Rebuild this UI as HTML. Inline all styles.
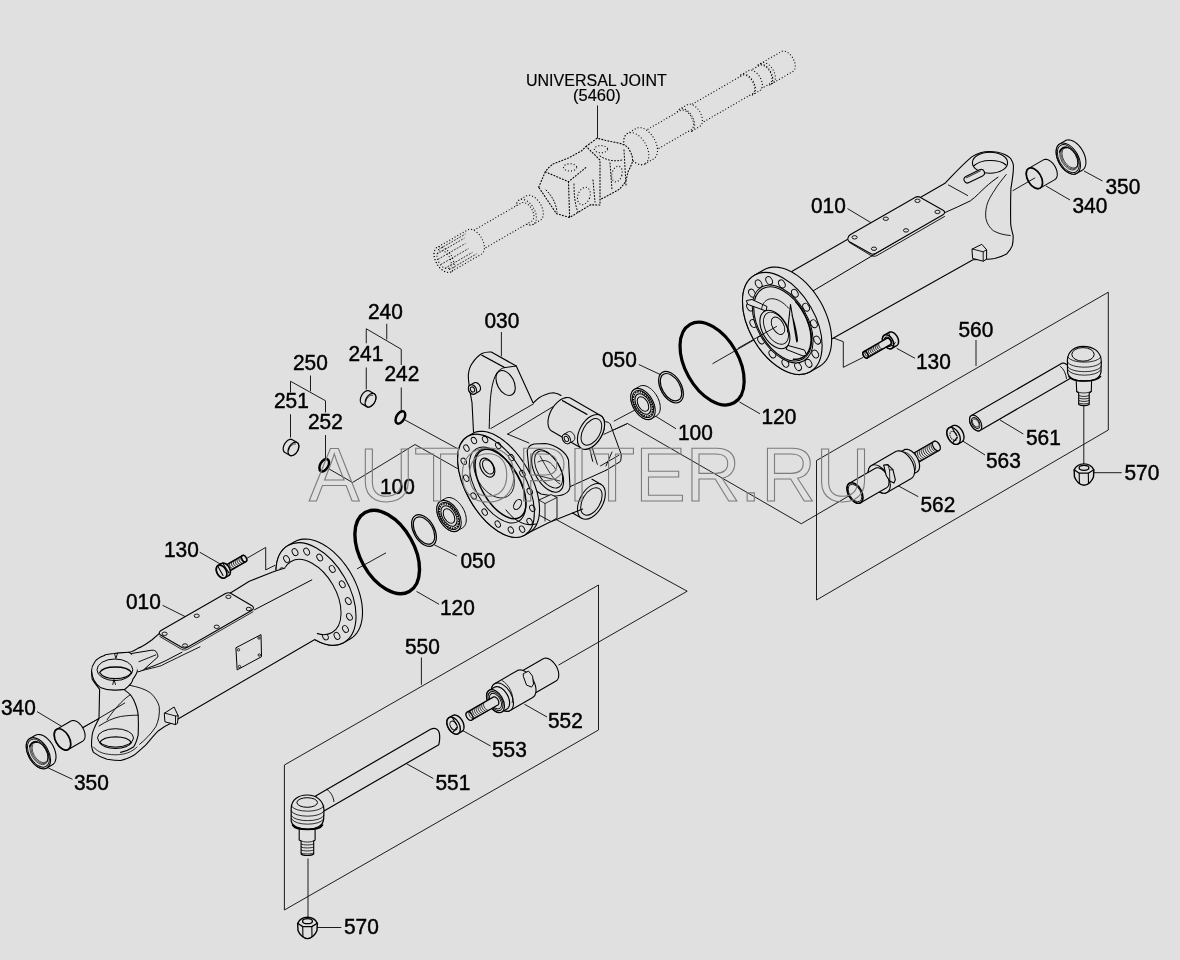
<!DOCTYPE html>
<html><head><meta charset="utf-8">
<style>
html,body{margin:0;padding:0;background:#e0e0e0;}
svg{display:block;will-change:transform;}
text{font-family:"Liberation Sans",sans-serif;fill:#000;}
.lb{font-size:22px;stroke:#000;stroke-width:0.45px;}
.ln{stroke:#111;stroke-width:0.95;fill:none;}
</style></head><body>
<svg width="1180" height="960" viewBox="0 0 1180 960">
<rect width="1180" height="960" fill="#e0e0e0"/>
<g class="lb">
<text x="526" y="85.5" style="font-size:16px;stroke-width:0.15px">UNIVERSAL JOINT</text>
<text x="573" y="101" style="font-size:16.5px;stroke-width:0.15px">(5460)</text>
<text transform="translate(811 213) scale(0.95 1)">010</text>
<text transform="translate(1105.5 194) scale(0.95 1)">350</text>
<text transform="translate(1072.5 213) scale(0.95 1)">340</text>
<text transform="translate(958.5 337) scale(0.95 1)">560</text>
<text transform="translate(916 369) scale(0.95 1)">130</text>
<text transform="translate(761.5 424) scale(0.95 1)">120</text>
<text transform="translate(678 440) scale(0.95 1)">100</text>
<text transform="translate(602 367) scale(0.95 1)">050</text>
<text transform="translate(484.5 327.5) scale(0.95 1)">030</text>
<text transform="translate(368 318.5) scale(0.95 1)">240</text>
<text transform="translate(348.5 360.5) scale(0.95 1)">241</text>
<text transform="translate(384.5 380.5) scale(0.95 1)">242</text>
<text transform="translate(293 370) scale(0.95 1)">250</text>
<text transform="translate(274 408) scale(0.95 1)">251</text>
<text transform="translate(308 429) scale(0.95 1)">252</text>
<text transform="translate(1026 445) scale(0.95 1)">561</text>
<text transform="translate(986 468) scale(0.95 1)">563</text>
<text transform="translate(1124.5 480) scale(0.95 1)">570</text>
<text transform="translate(920.5 511.5) scale(0.95 1)">562</text>
<text transform="translate(380 493.5) scale(0.95 1)">100</text>
<text transform="translate(460.5 568) scale(0.95 1)">050</text>
<text transform="translate(164 557) scale(0.95 1)">130</text>
<text transform="translate(440 614.5) scale(0.95 1)">120</text>
<text transform="translate(126 608.5) scale(0.95 1)">010</text>
<text transform="translate(405 654) scale(0.95 1)">550</text>
<text transform="translate(548 728) scale(0.95 1)">552</text>
<text transform="translate(492 757) scale(0.95 1)">553</text>
<text transform="translate(1 714.5) scale(0.95 1)">340</text>
<text transform="translate(74 790) scale(0.95 1)">350</text>
<text transform="translate(435.5 790) scale(0.95 1)">551</text>
<text transform="translate(344 933.5) scale(0.95 1)">570</text>
</g>

<g class="ln">
<path d="M597.5 105.5V139"/>
<path d="M1084 171L1102.5 181"/>
<path d="M1046 186L1070 200"/>
<path d="M847.5 208.6L871.2 222.8"/>
<path d="M386.75 323.75V339.5M366.25 343.25V328.75L401.25 349.25V365M366.25 367.5V389.5M401.25 387.5V412"/>
<path d="M310.5 375.5V391.25M290.5 392.5V381.25L325.5 400.75V412.5M290.5 414.25V437.5M325.5 435V460"/>
<path d="M405 420L460 450"/>
<path d="M328.75 468.75L352.5 482.5L415 444.5L460 470"/>
<path d="M501.4 332V356.4"/>
<path d="M638.75 364.5L661.25 375"/>
<path d="M654.5 415.5L676 428.75"/>
<path d="M739.5 402L760 413.75"/>
<path d="M613.75 421.25L638.75 408"/>
<path d="M712.5 363.75L780 325"/>
<path d="M602.5 435L627.5 423.5L801.25 523.75L900 466"/>
<path d="M1108.3 292.2L816.5 460.5V600L1108.3 430Z"/>
<path d="M976 340V366"/>
<path d="M830 336.7L843.3 341.7V367.3L863.3 357.3"/>
<path d="M896.7 348.3L915 358.3"/>
<path d="M1000 420L1023.3 434"/>
<path d="M960 439.3L985 455"/>
<path d="M1092.7 472.7H1121.7"/>
<path d="M896.7 485L918.3 496.7"/>
<path d="M1083.8 405V464"/>
<path d="M199.7 552.2L222.2 565.1"/>
<path d="M246.4 558.6L265.7 547.4V569.9L275.4 565.1"/>
<path d="M162.6 605.3L185.2 616.6"/>
<path d="M37 711.6L61.2 726.1"/>
<path d="M48.3 768L72.5 779.3"/>
<path d="M434.3 544.8L456.8 556"/>
<path d="M416.5 591.4L439.1 604.3"/>
<path d="M357 568.9L386 552.8"/>
<path d="M421.4 657.5V684.8"/>
<path d="M284.4 765L598.5 585V730L284.4 910Z"/>
<path d="M545 513.4L687.2 591.2L558.5 665.1"/>
<path d="M524.4 704.2L547 717"/>
<path d="M461.6 730L490.6 746"/>
<path d="M406.3 763.6L433.3 778.5"/>
<path d="M316.9 927.5H341.3"/>
<path d="M308 858.5V917.5"/>
</g>

<ellipse cx="712.1" cy="363.6" rx="44.9" ry="26.8" transform="rotate(60.7 712.1 363.6)" fill="none" stroke="#000" stroke-width="3.2" />
<ellipse cx="387.2" cy="552" rx="45.2" ry="27" transform="rotate(60.7 387.2 552)" fill="none" stroke="#000" stroke-width="3.4" />
<ellipse cx="671" cy="387.2" rx="17.2" ry="10.3" transform="rotate(60 671 387.2)" fill="none" stroke="#000" stroke-width="1.2" />
<ellipse cx="671" cy="387.2" rx="14.9" ry="8.9" transform="rotate(60 671 387.2)" fill="none" stroke="#000" stroke-width="1.2" />
<ellipse cx="424" cy="530.5" rx="17.2" ry="10.3" transform="rotate(60 424 530.5)" fill="none" stroke="#000" stroke-width="1.2" />
<ellipse cx="424" cy="530.5" rx="14.9" ry="8.9" transform="rotate(60 424 530.5)" fill="none" stroke="#000" stroke-width="1.2" />
<path d="M651.5,418.72 L650.7,419.11 L649.84,419.38 L648.92,419.54 L647.97,419.58 L646.97,419.5 L645.94,419.3 L644.9,418.99 L643.83,418.56 L642.76,418.02 L641.7,417.37 L640.64,416.62 L639.6,415.78 L638.59,414.84 L637.61,413.83 L636.67,412.74 L635.78,411.58 L634.94,410.36 L634.17,409.1 L633.46,407.8 L632.82,406.47 L632.27,405.12 L631.79,403.76 L631.4,402.4 L631.1,401.06 L630.89,399.73 L630.77,398.44 L630.74,397.2 L630.81,396 L630.97,394.87 L631.22,393.8 L631.56,392.81 L631.99,391.91 L632.5,391.1 L633.1,390.39 L633.76,389.78 L634.5,389.28 L639.52,386.38 L640.32,385.99 L641.19,385.72 L642.1,385.56 L643.06,385.52 L644.05,385.6 L645.08,385.8 L646.13,386.11 L647.19,386.54 L648.26,387.08 L649.33,387.73 L650.38,388.48 L651.42,389.32 L652.44,390.26 L653.42,391.27 L654.36,392.36 L655.25,393.52 L656.08,394.74 L656.86,396 L657.56,397.3 L658.2,398.63 L658.76,399.98 L659.23,401.34 L659.62,402.7 L659.92,404.04 L660.13,405.37 L660.25,406.66 L660.28,407.9 L660.21,409.1 L660.05,410.23 L659.8,411.3 L659.46,412.29 L659.03,413.19 L658.52,414 L657.93,414.71 L657.26,415.32 L656.52,415.82Z" fill="#e0e0e0" stroke="#000" stroke-width="1" stroke-linejoin="round" />
<ellipse cx="643" cy="404" rx="17" ry="10.2" transform="rotate(60 643 404)" fill="#e0e0e0" stroke="#000" stroke-width="1" />
<ellipse cx="643" cy="404" rx="14.8" ry="8.9" transform="rotate(60 643 404)" fill="none" stroke="#000" stroke-width="1" />
<ellipse cx="643" cy="404" rx="13.4" ry="8" transform="rotate(60 643 404)" fill="none" stroke="#000" stroke-width="1.6" stroke-dasharray="1.5 1"/>
<ellipse cx="643" cy="404" rx="11.2" ry="6.7" transform="rotate(60 643 404)" fill="none" stroke="#000" stroke-width="1" />
<ellipse cx="643" cy="404" rx="8" ry="4.8" transform="rotate(60 643 404)" fill="none" stroke="#000" stroke-width="1" />
<path d="M457.5,530.72 L456.7,531.11 L455.84,531.38 L454.92,531.54 L453.97,531.58 L452.97,531.5 L451.94,531.3 L450.9,530.99 L449.83,530.56 L448.76,530.02 L447.7,529.37 L446.64,528.62 L445.6,527.78 L444.59,526.84 L443.61,525.83 L442.67,524.74 L441.78,523.58 L440.94,522.36 L440.17,521.1 L439.46,519.8 L438.82,518.47 L438.27,517.12 L437.79,515.76 L437.4,514.4 L437.1,513.06 L436.89,511.73 L436.77,510.44 L436.74,509.2 L436.81,508 L436.97,506.87 L437.22,505.8 L437.56,504.81 L437.99,503.91 L438.5,503.1 L439.1,502.39 L439.76,501.78 L440.5,501.28 L445.52,498.38 L446.32,497.99 L447.19,497.72 L448.1,497.56 L449.06,497.52 L450.05,497.6 L451.08,497.8 L452.13,498.11 L453.19,498.54 L454.26,499.08 L455.33,499.73 L456.38,500.48 L457.42,501.32 L458.44,502.26 L459.42,503.27 L460.36,504.36 L461.25,505.52 L462.08,506.74 L462.86,508 L463.56,509.3 L464.2,510.63 L464.76,511.98 L465.23,513.34 L465.62,514.7 L465.92,516.04 L466.13,517.37 L466.25,518.66 L466.28,519.9 L466.21,521.1 L466.05,522.23 L465.8,523.3 L465.46,524.29 L465.03,525.19 L464.52,526 L463.93,526.71 L463.26,527.32 L462.52,527.82Z" fill="#e0e0e0" stroke="#000" stroke-width="1" stroke-linejoin="round" />
<ellipse cx="449" cy="516" rx="17" ry="10.2" transform="rotate(60 449 516)" fill="#e0e0e0" stroke="#000" stroke-width="1" />
<ellipse cx="449" cy="516" rx="14.8" ry="8.9" transform="rotate(60 449 516)" fill="none" stroke="#000" stroke-width="1" />
<ellipse cx="449" cy="516" rx="13.4" ry="8" transform="rotate(60 449 516)" fill="none" stroke="#000" stroke-width="1.6" stroke-dasharray="1.5 1"/>
<ellipse cx="449" cy="516" rx="11.2" ry="6.7" transform="rotate(60 449 516)" fill="none" stroke="#000" stroke-width="1" />
<ellipse cx="449" cy="516" rx="8" ry="4.8" transform="rotate(60 449 516)" fill="none" stroke="#000" stroke-width="1" />
<path d="M792.1,271.3 L945,183.3 C953,175 961,166 971.7,156.9 C978,153 984,151.5 989.3,151.5 C996,151.7 1001,152.8 1004.2,154.2 C1008,156 1011,158 1011.6,160.3 C1013.2,163 1013.6,166 1013.4,167.1 C1013.5,172 1012.8,176 1012.3,179.3 L1010.9,188.7 C1010.5,200 1010.5,212 1010.7,224 C1011,228 1012,231 1013,234.8 C1013.4,238 1013,242 1012.3,245.6 C1011,249 1009,251.5 1006.9,253.7 C1003,256 999,257.5 994.7,258.5 C992,259 989,259.2 987.2,259.2 L973,259.8 L831.7,339 L800,340 Z" fill="#e0e0e0" stroke="#000" stroke-width="1.1" stroke-linejoin="round" stroke-linecap="round" />
<path d="M812.9,291 L944.2,212.9 C953,209 962,205 970.3,200.9 C976,197 981,191 985.2,187.4 C990,183 994,180 998,177.2" fill="none" stroke="#000" stroke-width="1" stroke-linejoin="round" stroke-linecap="round" />
<path d="M948.5,185 L967.6,195.5" fill="none" stroke="#000" stroke-width="0.9" stroke-linejoin="round" stroke-linecap="round" />
<path d="M1006.2,174.5 C1001,181 997,186 994.7,190.1 C990,197 987.5,202 986.6,206.4 C985.5,211 985.5,215 985.9,218.5 C987,224 990,228 993.3,230.7 C998,233.5 1004,235 1010.3,235.5" fill="none" stroke="#000" stroke-width="0.9" stroke-linejoin="round" stroke-linecap="round" />
<ellipse cx="990" cy="162.7" rx="17.6" ry="10.5" transform="rotate(0 990 162.7)" fill="none" stroke="#000" stroke-width="1.1" />
<path d="M973.5,166 C978,162 984,160.5 990,160.5 C997,160.5 1003,162 1006,165" fill="none" stroke="#000" stroke-width="1.1" stroke-linejoin="round" stroke-linecap="round" />
<path d="M967.5,179.5 L981,172.8" stroke="#000" stroke-width="8" stroke-linecap="round" fill="none"/>
<path d="M967.5,179.5 L981,172.8" stroke="#e0e0e0" stroke-width="5.8" stroke-linecap="round" fill="none"/>
<path d="M966.5,177.8 L980.5,170.8" fill="none" stroke="#000" stroke-width="0.8" stroke-linejoin="round" stroke-linecap="round" />
<path d="M972.3,249 L981.8,244.3 L986.6,249.7 L986.6,259.2 L983.2,261.2 L973,258.5 Z" fill="#e0e0e0" stroke="#000" stroke-width="1" stroke-linejoin="round" stroke-linecap="round" />
<path d="M972.3,249 L983.2,251.8 L986.6,249.7 M983.2,251.8 V261.2" fill="none" stroke="#000" stroke-width="0.9" stroke-linejoin="round" stroke-linecap="round" />
<path d="M850.5,234.5 L915,197.5 C917,196.3 919,196.5 920.5,197.5 L943.5,210.5 C945,211.5 945,213.5 943,214.7 L876,253.3 C874,254.4 872,254.4 870.5,253.5 L849,241.5 C847,240.2 847.5,236.5 850.5,234.5 Z" fill="#e0e0e0" stroke="#000" stroke-width="1.1" stroke-linejoin="round" stroke-linecap="round" />
<path d="M849.5,242.5 L871,255.5 C873,256.5 875,256.5 877,255.5 L944.5,216.5" fill="none" stroke="#000" stroke-width="0.9" stroke-linejoin="round" stroke-linecap="round" />
<ellipse cx="854.6" cy="237.3" rx="2.6" ry="1.7" transform="rotate(0 854.6 237.3)" fill="none" stroke="#000" stroke-width="0.9" />
<ellipse cx="917.5" cy="200.8" rx="2.6" ry="1.7" transform="rotate(0 917.5 200.8)" fill="none" stroke="#000" stroke-width="0.9" />
<ellipse cx="937.5" cy="211.9" rx="2.6" ry="1.7" transform="rotate(0 937.5 211.9)" fill="none" stroke="#000" stroke-width="0.9" />
<ellipse cx="874" cy="248.75" rx="2.6" ry="1.7" transform="rotate(0 874 248.75)" fill="none" stroke="#000" stroke-width="0.9" />
<ellipse cx="885.8" cy="218.75" rx="2.6" ry="1.7" transform="rotate(0 885.8 218.75)" fill="none" stroke="#000" stroke-width="0.9" />
<ellipse cx="906" cy="230.4" rx="2.6" ry="1.7" transform="rotate(0 906 230.4)" fill="none" stroke="#000" stroke-width="0.9" />
<path d="M810.15,371.74 L807.56,372.99 L804.79,373.86 L801.84,374.35 L798.74,374.45 L795.51,374.16 L792.19,373.49 L788.79,372.44 L785.34,371.01 L781.87,369.23 L778.4,367.09 L774.96,364.63 L771.58,361.85 L768.28,358.78 L765.08,355.44 L762.02,351.86 L759.11,348.06 L756.38,344.07 L753.84,339.93 L751.52,335.67 L749.44,331.31 L747.6,326.89 L746.03,322.44 L744.74,318.01 L743.73,313.61 L743.01,309.29 L742.6,305.08 L742.48,301.01 L742.67,297.11 L743.16,293.41 L743.95,289.94 L745.03,286.73 L746.4,283.79 L748.03,281.16 L749.93,278.85 L752.08,276.88 L754.45,275.26 L763.98,269.76 L766.56,268.51 L769.34,267.64 L772.29,267.15 L775.39,267.05 L778.61,267.34 L781.94,268.01 L785.34,269.06 L788.79,270.49 L792.26,272.27 L795.73,274.41 L799.16,276.87 L802.55,279.65 L805.85,282.72 L809.04,286.06 L812.11,289.64 L815.02,293.44 L817.75,297.43 L820.29,301.57 L822.6,305.83 L824.69,310.19 L826.52,314.61 L828.09,319.06 L829.39,323.49 L830.4,327.89 L831.11,332.21 L831.53,336.42 L831.64,340.49 L831.45,344.39 L830.96,348.09 L830.17,351.56 L829.09,354.77 L827.73,357.71 L826.09,360.34 L824.2,362.65 L822.05,364.62 L819.68,366.24Z" fill="#e0e0e0" stroke="#000" stroke-width="1.1" stroke-linejoin="round" />
<ellipse cx="782.3" cy="323.5" rx="55.7" ry="32.86" transform="rotate(60 782.3 323.5)" fill="#e0e0e0" stroke="#000" stroke-width="1.1" />
<ellipse cx="798.05" cy="366.6" rx="4.2" ry="3" transform="rotate(60 798.05 366.6)" fill="none" stroke="#000" stroke-width="0.9" />
<ellipse cx="785.34" cy="363.3" rx="4.2" ry="3" transform="rotate(60 785.34 363.3)" fill="none" stroke="#000" stroke-width="0.9" />
<ellipse cx="772.37" cy="353.95" rx="4.2" ry="3" transform="rotate(60 772.37 353.95)" fill="none" stroke="#000" stroke-width="0.9" />
<ellipse cx="761.1" cy="339.99" rx="4.2" ry="3" transform="rotate(60 761.1 339.99)" fill="none" stroke="#000" stroke-width="0.9" />
<ellipse cx="753.27" cy="323.53" rx="4.2" ry="3" transform="rotate(60 753.27 323.53)" fill="none" stroke="#000" stroke-width="0.9" />
<ellipse cx="750.05" cy="307.08" rx="4.2" ry="3" transform="rotate(60 750.05 307.08)" fill="none" stroke="#000" stroke-width="0.9" />
<ellipse cx="751.93" cy="293.14" rx="4.2" ry="3" transform="rotate(60 751.93 293.14)" fill="none" stroke="#000" stroke-width="0.9" />
<ellipse cx="758.64" cy="283.85" rx="4.2" ry="3" transform="rotate(60 758.64 283.85)" fill="none" stroke="#000" stroke-width="0.9" />
<ellipse cx="769.15" cy="280.6" rx="4.2" ry="3" transform="rotate(60 769.15 280.6)" fill="none" stroke="#000" stroke-width="0.9" />
<ellipse cx="781.86" cy="283.9" rx="4.2" ry="3" transform="rotate(60 781.86 283.9)" fill="none" stroke="#000" stroke-width="0.9" />
<ellipse cx="794.83" cy="293.25" rx="4.2" ry="3" transform="rotate(60 794.83 293.25)" fill="none" stroke="#000" stroke-width="0.9" />
<ellipse cx="806.1" cy="307.21" rx="4.2" ry="3" transform="rotate(60 806.1 307.21)" fill="none" stroke="#000" stroke-width="0.9" />
<ellipse cx="813.93" cy="323.67" rx="4.2" ry="3" transform="rotate(60 813.93 323.67)" fill="none" stroke="#000" stroke-width="0.9" />
<ellipse cx="817.15" cy="340.12" rx="4.2" ry="3" transform="rotate(60 817.15 340.12)" fill="none" stroke="#000" stroke-width="0.9" />
<ellipse cx="815.27" cy="354.06" rx="4.2" ry="3" transform="rotate(60 815.27 354.06)" fill="none" stroke="#000" stroke-width="0.9" />
<ellipse cx="808.56" cy="363.35" rx="4.2" ry="3" transform="rotate(60 808.56 363.35)" fill="none" stroke="#000" stroke-width="0.9" />
<ellipse cx="782.7" cy="323.9" rx="42.5" ry="25.07" transform="rotate(60 782.7 323.9)" fill="#e0e0e0" stroke="#000" stroke-width="1" />
<ellipse cx="782.7" cy="323.9" rx="40.5" ry="23.89" transform="rotate(60 782.7 323.9)" fill="none" stroke="#000" stroke-width="1.1" />
<path d="M795.75,301.79 L797.62,304.02 L799.41,306.36 L801.10,308.81 L802.68,311.34 L804.15,313.94 L805.50,316.60 L806.72,319.30 L807.79,322.02 L808.73,324.76 L809.51,327.49 L810.14,330.19 L810.61,332.86 L810.92,335.47 L811.07,338.01 L811.05,340.47 L810.87,342.83 L810.53,345.07 L810.02,347.19 L809.36,349.17 L808.55,351.01 L807.58,352.67 L806.48,354.17 L805.23,355.49 L803.86,356.62 L802.37,357.56 L800.76,358.30 L799.05,358.83 L797.24,359.16 L795.36,359.28 L793.40,359.19" fill="none" stroke="#000" stroke-width="1.5" stroke-linejoin="round" stroke-linecap="round" stroke-dasharray="0.6 0.8" stroke-linecap="butt"/>
<path d="M746.75,300.5 L752,299.5 L767,306.5 L766,311 L748,304.5 Z" fill="#e0e0e0" stroke="#000" stroke-width="1" stroke-linejoin="round" stroke-linecap="round" />
<path d="M788,345.5 L804.5,350 L806.5,355 L803,356 L786.5,349.5 Z" fill="#e0e0e0" stroke="#000" stroke-width="1" stroke-linejoin="round" stroke-linecap="round" />
<path d="M761.63,309.05 L761.92,307.54 L762.32,306.13 L762.82,304.81 L763.44,303.61 L764.16,302.53 L764.98,301.57 L765.89,300.74 L766.89,300.05 L767.97,299.50 L769.13,299.09 L770.36,298.83 L771.65,298.72 L772.99,298.75 L774.37,298.94 L775.79,299.27 L777.23,299.75 L778.69,300.37 L780.16,301.13 L781.63,302.03 L783.09,303.05 L784.53,304.19 L785.94,305.45 L787.32,306.82 L788.65,308.28" fill="none" stroke="#000" stroke-width="0.9" stroke-linejoin="round" stroke-linecap="round" />
<ellipse cx="774.9" cy="329.5" rx="21" ry="12.39" transform="rotate(60 774.9 329.5)" fill="#e0e0e0" stroke="#000" stroke-width="1.1" />
<ellipse cx="776" cy="328.2" rx="17.5" ry="10.32" transform="rotate(60 776 328.2)" fill="none" stroke="#000" stroke-width="0.9" />
<ellipse cx="778" cy="325.75" rx="9.5" ry="5.6" transform="rotate(60 778 325.75)" fill="none" stroke="#000" stroke-width="0.9" />
<path d="M790.5,304.5 L787.5,332 M790.5,304.5 L796.75,342 M792,315 C795,325 797,333 797.5,341" fill="none" stroke="#000" stroke-width="1.1" stroke-linejoin="round" stroke-linecap="round" />
<path d="M776.5,326.5 L738,348.25" fill="none" stroke="#000" stroke-width="0.9" stroke-linejoin="round" stroke-linecap="round" />
<path d="M344,642.5 L341.4,643.75 L338.61,644.63 L335.64,645.12 L332.53,645.22 L329.28,644.94 L325.94,644.26 L322.52,643.2 L319.06,641.77 L315.57,639.97 L312.08,637.83 L308.62,635.35 L305.22,632.56 L301.9,629.47 L298.69,626.11 L295.61,622.51 L292.68,618.69 L289.94,614.68 L287.39,610.52 L285.06,606.23 L282.96,601.85 L281.11,597.41 L279.54,592.94 L278.23,588.48 L277.22,584.06 L276.5,579.72 L276.08,575.48 L275.97,571.39 L276.16,567.47 L276.65,563.75 L277.44,560.26 L278.53,557.03 L279.9,554.08 L281.55,551.43 L283.46,549.11 L285.61,547.13 L288,545.5 L294.49,541.75 L297.1,540.5 L299.89,539.62 L302.85,539.13 L305.97,539.03 L309.21,539.31 L312.55,539.99 L315.97,541.05 L319.44,542.48 L322.93,544.28 L326.42,546.42 L329.87,548.9 L333.27,551.69 L336.59,554.78 L339.81,558.14 L342.89,561.74 L345.81,565.56 L348.56,569.57 L351.11,573.73 L353.44,578.02 L355.54,582.4 L357.38,586.84 L358.96,591.31 L360.26,595.77 L361.27,600.19 L361.99,604.53 L362.41,608.77 L362.53,612.86 L362.34,616.78 L361.84,620.5 L361.05,623.99 L359.96,627.22 L358.59,630.17 L356.95,632.82 L355.04,635.14 L352.88,637.12 L350.5,638.75Z" fill="#e0e0e0" stroke="#000" stroke-width="1.1" stroke-linejoin="round" />
<ellipse cx="316" cy="594" rx="56" ry="33.04" transform="rotate(60 316 594)" fill="#e0e0e0" stroke="#000" stroke-width="1.1" />
<ellipse cx="336.99" cy="635.88" rx="3.7" ry="2.6" transform="rotate(60 336.99 635.88)" fill="none" stroke="#000" stroke-width="0.9" />
<ellipse cx="325.35" cy="636.42" rx="3.7" ry="2.6" transform="rotate(60 325.35 636.42)" fill="none" stroke="#000" stroke-width="0.9" />
<ellipse cx="312.28" cy="630.5" rx="3.7" ry="2.6" transform="rotate(60 312.28 630.5)" fill="none" stroke="#000" stroke-width="0.9" />
<ellipse cx="299.79" cy="619.02" rx="3.7" ry="2.6" transform="rotate(60 299.79 619.02)" fill="none" stroke="#000" stroke-width="0.9" />
<ellipse cx="289.76" cy="603.73" rx="3.7" ry="2.6" transform="rotate(60 289.76 603.73)" fill="none" stroke="#000" stroke-width="0.9" />
<ellipse cx="283.73" cy="586.96" rx="3.7" ry="2.6" transform="rotate(60 283.73 586.96)" fill="none" stroke="#000" stroke-width="0.9" />
<ellipse cx="282.61" cy="571.27" rx="3.7" ry="2.6" transform="rotate(60 282.61 571.27)" fill="none" stroke="#000" stroke-width="0.9" />
<ellipse cx="286.57" cy="559.03" rx="3.7" ry="2.6" transform="rotate(60 286.57 559.03)" fill="none" stroke="#000" stroke-width="0.9" />
<ellipse cx="295.01" cy="552.12" rx="3.7" ry="2.6" transform="rotate(60 295.01 552.12)" fill="none" stroke="#000" stroke-width="0.9" />
<ellipse cx="306.65" cy="551.58" rx="3.7" ry="2.6" transform="rotate(60 306.65 551.58)" fill="none" stroke="#000" stroke-width="0.9" />
<ellipse cx="319.72" cy="557.5" rx="3.7" ry="2.6" transform="rotate(60 319.72 557.5)" fill="none" stroke="#000" stroke-width="0.9" />
<ellipse cx="332.21" cy="568.98" rx="3.7" ry="2.6" transform="rotate(60 332.21 568.98)" fill="none" stroke="#000" stroke-width="0.9" />
<ellipse cx="342.24" cy="584.27" rx="3.7" ry="2.6" transform="rotate(60 342.24 584.27)" fill="none" stroke="#000" stroke-width="0.9" />
<ellipse cx="348.27" cy="601.04" rx="3.7" ry="2.6" transform="rotate(60 348.27 601.04)" fill="none" stroke="#000" stroke-width="0.9" />
<ellipse cx="349.39" cy="616.73" rx="3.7" ry="2.6" transform="rotate(60 349.39 616.73)" fill="none" stroke="#000" stroke-width="0.9" />
<ellipse cx="345.43" cy="628.97" rx="3.7" ry="2.6" transform="rotate(60 345.43 628.97)" fill="none" stroke="#000" stroke-width="0.9" />
<ellipse cx="311.5" cy="597" rx="41" ry="24.6" transform="rotate(60 311.5 597)" fill="#e0e0e0" stroke="#000" stroke-width="1" />
<path d="M292,566 C282,568 276,570 272.7,572 L249.3,581.2 L228.4,594.2 L159.4,633.3 L151.8,640 C146,644 142,647 138.2,648.1 C134,651 131,652 128.7,652.2 L119.3,652.9 L113.9,653.5 C108,654 104,655 104.4,655.6 C99,657.5 96,660 94.9,661.7 C92.5,665 91.5,668 91.5,671.1 C91.7,674 92,677 92.2,679.3 C95,684 98,687 99.6,689.4 L99,718.5 C95,726 92.5,731 92.2,734.8 C91.5,740 91.5,743 91.5,745.6 C92,749 92.8,751 93.5,752.4 C98,756 103,758 107.1,759.2 C112,760 116,760.5 120.6,760.5 C126,759.5 130,757.5 134.2,755.1 C139,751 143,747.5 146.4,744.3 C151,739 155,734 158.5,730.7 C162,728 166,725.5 169.4,724 L178,719 L314.4,639.8 L330,600 Z" fill="#e0e0e0" stroke="none"/>
<path d="M285,568 C280,569.5 276,570.5 272.7,572 L249.3,581.2 L228.4,594.2 L159.4,633.3 L151.8,640 C146,644 142,647 138.2,648.1 C134,651 131,652 128.7,652.2 L119.3,652.9 L113.9,653.5 C108,654 104,655 104.4,655.6 C99,657.5 96,660 94.9,661.7 C92.5,665 91.5,668 91.5,671.1 C91.7,674 92,677 92.2,679.3 C95,684 98,687 99.6,689.4 L99,718.5 C95,726 92.5,731 92.2,734.8 C91.5,740 91.5,743 91.5,745.6 C92,749 92.8,751 93.5,752.4 C98,756 103,758 107.1,759.2 C112,760 116,760.5 120.6,760.5 C126,759.5 130,757.5 134.2,755.1 C139,751 143,747.5 146.4,744.3 C151,739 155,734 158.5,730.7 C162,728 166,725.5 169.4,724 L178,719 L314.4,639.8" fill="none" stroke="#000" stroke-width="1.1" stroke-linejoin="round" stroke-linecap="round" />
<path d="M311.8,579.9 L254.5,609.8 M182,652.2 L165.9,660.6 C158,664.5 150,667.5 142.5,669.7" fill="none" stroke="#000" stroke-width="1" stroke-linejoin="round" stroke-linecap="round" />
<path d="M139.6,671.1 C148,669 155,667.5 161.2,665.7 C168,662 173,660 177.5,657.6 L200,646.8" fill="none" stroke="#000" stroke-width="0.9" stroke-linejoin="round" stroke-linecap="round" />
<path d="M91.5,671.1 C92,677 94,683 100.3,687.4 C104,689 109,690.1 113.9,690.1 C118,690.2 122,689.8 124.7,689.4 C129,686 133,683 132.8,679.3 C136,675 137.5,672 137.5,669.8 C137.5,665 137.5,662 136.9,660.3 C134,656 131,653 128.7,652.2" fill="none" stroke="#000" stroke-width="1.1" stroke-linejoin="round" stroke-linecap="round" />
<ellipse cx="114.9" cy="669.8" rx="17.9" ry="10.8" transform="rotate(0 114.9 669.8)" fill="none" stroke="#000" stroke-width="1" />
<path d="M99.6,672.5 C102,668.5 108,667 115.2,667 C123,667 129,668.5 131.5,672.5 C129,676.5 122,678.6 115.2,678.6 C108,678.6 102,676.5 99.6,672.5 Z" fill="none" stroke="#000" stroke-width="1.3" stroke-linejoin="round" stroke-linecap="round" />
<path d="M114.5,653.5 L115.9,658.5 L117.5,653.2 M112.8,684.5 L113.9,679.5 L115.5,684.5" fill="none" stroke="#000" stroke-width="0.9" stroke-linejoin="round" stroke-linecap="round" />
<path d="M124.7,690.1 C129,693 132,696 133.5,699.6 C136,705 138,711 138.2,715.8 C138.5,722 138.5,729 138.2,734.8 C137,740 135.5,744 133.5,747 C129,750 125,751.5 120.6,752.4" fill="none" stroke="#000" stroke-width="1.1" stroke-linejoin="round" stroke-linecap="round" />
<path d="M130.1,685.4 C138,687 145,689 150.4,692.8 C155,697 158,702 159.2,706.3 C160,714 158.5,721 155.8,726.7 C151,734 145,740 139.6,744.3" fill="none" stroke="#000" stroke-width="0.9" stroke-linejoin="round" stroke-linecap="round" />
<path d="M99,726 C106,721.5 113,718 120.6,716.5 C127,715.5 133,715.2 138.2,715.2" fill="none" stroke="#000" stroke-width="0.9" stroke-linejoin="round" stroke-linecap="round" />
<path d="M107.1,719.9 C113,711 121,701 130.1,694.8" fill="none" stroke="#000" stroke-width="0.9" stroke-linejoin="round" stroke-linecap="round" />
<path d="M82.7,728 L124.7,703" fill="none" stroke="#000" stroke-width="0.9" stroke-linejoin="round" stroke-linecap="round" />
<ellipse cx="115.5" cy="737.9" rx="18" ry="9.2" transform="rotate(0 115.5 737.9)" fill="#e0e0e0" stroke="#000" stroke-width="1" />
<path d="M99.6,742.5 C102,738.5 108,736.8 115.6,736.8 C123,736.8 129,738.5 131.5,742.5 C129,746.5 123,748.3 115.6,748.3 C108,748.3 102,746.5 99.6,742.5 Z" fill="none" stroke="#000" stroke-width="1.3" stroke-linejoin="round" stroke-linecap="round" />
<path d="M93.5,747 C98,753 106,754.5 115,754.8 C125,754.8 132,752 137,747" fill="none" stroke="#000" stroke-width="0.8" stroke-linejoin="round" stroke-linecap="round" />
<path d="M131.5,653.5 L151.8,650.2 C154,650 156,651 156.5,652.2 C157.5,654 158,655.5 157.9,656.9 L143.6,669.8 C141,671 139.5,671.5 138.2,671.8" fill="#e0e0e0" stroke="#000" stroke-width="1" stroke-linejoin="round" stroke-linecap="round" />
<path d="M138.9,661.7 L155.8,654.9" fill="none" stroke="#000" stroke-width="0.9" stroke-linejoin="round" stroke-linecap="round" />
<path d="M164.6,713.1 L174.1,707 L178.2,715.8 L177.5,723.3 L175.5,724.6 L165.3,721.9 Z" fill="#e0e0e0" stroke="#000" stroke-width="1" stroke-linejoin="round" stroke-linecap="round" />
<path d="M164.6,713.1 L175.5,716 L178.2,715.8 M175.5,716 V724.6" fill="none" stroke="#000" stroke-width="0.9" stroke-linejoin="round" stroke-linecap="round" />
<path d="M161,630.5 L225.5,593.5 C227.5,592.5 229.5,592.5 231,593.5 L252,605.8 C254,607 254,609 252,610.2 L187.5,647.3 C185.5,648.4 183.5,648.4 182,647.5 L160.5,635 C158.5,633.8 159,631.8 161,630.5 Z" fill="#e0e0e0" stroke="#000" stroke-width="1.1" stroke-linejoin="round" stroke-linecap="round" />
<path d="M159.8,636.5 L181.5,649.3 C183.5,650.3 185.5,650.3 187.5,649.3 L253,611.8" fill="none" stroke="#000" stroke-width="0.8" stroke-linejoin="round" stroke-linecap="round" />
<ellipse cx="164.6" cy="633.8" rx="2.6" ry="1.7" transform="rotate(0 164.6 633.8)" fill="none" stroke="#000" stroke-width="0.9" />
<ellipse cx="228.4" cy="596.8" rx="2.6" ry="1.7" transform="rotate(0 228.4 596.8)" fill="none" stroke="#000" stroke-width="0.9" />
<ellipse cx="248.75" cy="609" rx="2.6" ry="1.7" transform="rotate(0 248.75 609)" fill="none" stroke="#000" stroke-width="0.9" />
<ellipse cx="185" cy="645.5" rx="2.6" ry="1.7" transform="rotate(0 185 645.5)" fill="none" stroke="#000" stroke-width="0.9" />
<ellipse cx="196.7" cy="615.8" rx="2.6" ry="1.7" transform="rotate(0 196.7 615.8)" fill="none" stroke="#000" stroke-width="0.9" />
<ellipse cx="216.7" cy="626.8" rx="2.6" ry="1.7" transform="rotate(0 216.7 626.8)" fill="none" stroke="#000" stroke-width="0.9" />
<path d="M236.25,647.6 L261,634.6 L261.5,656.7 L237.5,669.7 Z" fill="none" stroke="#000" stroke-width="1" stroke-linejoin="round" stroke-linecap="round" />
<ellipse cx="238.5" cy="649.8" rx="1.2" ry="1.2" transform="rotate(0 238.5 649.8)" fill="none" stroke="#000" stroke-width="0.8" />
<ellipse cx="259" cy="638" rx="1.2" ry="1.2" transform="rotate(0 259 638)" fill="none" stroke="#000" stroke-width="0.8" />
<ellipse cx="259.3" cy="655" rx="1.2" ry="1.2" transform="rotate(0 259.3 655)" fill="none" stroke="#000" stroke-width="0.8" />
<ellipse cx="239.5" cy="666.5" rx="1.2" ry="1.2" transform="rotate(0 239.5 666.5)" fill="none" stroke="#000" stroke-width="0.8" />
<path d="M770.27,84.56 L769.74,84.82 L769.16,85 L768.55,85.1 L767.91,85.12 L767.25,85.06 L766.56,84.92 L765.86,84.7 L765.15,84.41 L764.43,84.04 L763.71,83.6 L763,83.09 L762.31,82.52 L761.62,81.88 L760.97,81.19 L760.33,80.45 L759.73,79.67 L759.17,78.85 L758.64,77.99 L758.17,77.11 L757.73,76.21 L757.36,75.3 L757.03,74.38 L756.76,73.47 L756.56,72.56 L756.41,71.67 L756.32,70.8 L756.3,69.96 L756.34,69.15 L756.44,68.39 L756.6,67.67 L756.83,67.01 L757.11,66.4 L757.45,65.86 L757.84,65.38 L758.28,64.97 L758.77,64.64 L781.29,51.64 L781.82,51.38 L782.39,51.2 L783,51.1 L783.64,51.08 L784.31,51.14 L784.99,51.28 L785.7,51.5 L786.41,51.79 L787.13,52.16 L787.84,52.6 L788.55,53.11 L789.25,53.68 L789.93,54.32 L790.59,55.01 L791.22,55.75 L791.82,56.53 L792.39,57.35 L792.91,58.21 L793.39,59.09 L793.82,59.99 L794.2,60.9 L794.52,61.82 L794.79,62.73 L795,63.64 L795.15,64.53 L795.23,65.4 L795.26,66.24 L795.22,67.05 L795.12,67.81 L794.95,68.53 L794.73,69.19 L794.45,69.8 L794.11,70.34 L793.72,70.82 L793.28,71.23 L792.79,71.56Z" fill="#e0e0e0" stroke="#000" stroke-width="1.1" stroke-linejoin="round" stroke-dasharray="1 2.1" stroke-linecap="butt"/>
<ellipse cx="764.52" cy="74.6" rx="11.5" ry="6.78" transform="rotate(60 764.52 74.6)" fill="#e0e0e0" stroke="#000" stroke-width="1.1" stroke-dasharray="1 2.1" stroke-linecap="butt"/>
<ellipse cx="767.12" cy="73.1" rx="11.5" ry="6.78" transform="rotate(60 767.12 73.1)" fill="none" stroke="#000" stroke-width="1" stroke-dasharray="1 2.1" stroke-linecap="butt"/>
<path d="M759.38,89.69 L758.89,89.93 L758.37,90.09 L757.81,90.19 L757.23,90.2 L756.62,90.15 L755.99,90.02 L755.35,89.83 L754.7,89.56 L754.05,89.22 L753.39,88.82 L752.74,88.35 L752.11,87.83 L751.48,87.25 L750.88,86.62 L750.3,85.95 L749.76,85.23 L749.24,84.48 L748.76,83.7 L748.33,82.89 L747.93,82.07 L747.59,81.24 L747.29,80.4 L747.05,79.56 L746.86,78.74 L746.72,77.92 L746.64,77.13 L746.62,76.36 L746.66,75.63 L746.75,74.93 L746.9,74.27 L747.1,73.67 L747.36,73.11 L747.67,72.62 L748.03,72.18 L748.43,71.81 L748.88,71.51 L759.27,65.51 L759.76,65.27 L760.28,65.11 L760.84,65.01 L761.42,65 L762.03,65.05 L762.66,65.18 L763.3,65.37 L763.95,65.64 L764.6,65.98 L765.26,66.38 L765.9,66.85 L766.54,67.37 L767.16,67.95 L767.77,68.58 L768.34,69.25 L768.89,69.97 L769.41,70.72 L769.88,71.5 L770.32,72.31 L770.72,73.13 L771.06,73.96 L771.36,74.8 L771.6,75.64 L771.79,76.46 L771.93,77.28 L772,78.07 L772.03,78.84 L771.99,79.57 L771.9,80.27 L771.75,80.93 L771.55,81.53 L771.29,82.09 L770.98,82.58 L770.62,83.02 L770.22,83.39 L769.77,83.69Z" fill="#e0e0e0" stroke="#000" stroke-width="1.1" stroke-linejoin="round" stroke-dasharray="1 2.1" stroke-linecap="butt"/>
<ellipse cx="754.13" cy="80.6" rx="10.5" ry="6.19" transform="rotate(60 754.13 80.6)" fill="#e0e0e0" stroke="#000" stroke-width="1.1" stroke-dasharray="1 2.1" stroke-linecap="butt"/>
<path d="M752.95,94.56 L752.42,94.82 L751.84,95 L751.23,95.1 L750.59,95.12 L749.93,95.06 L749.24,94.92 L748.54,94.7 L747.83,94.41 L747.11,94.04 L746.39,93.6 L745.68,93.09 L744.99,92.52 L744.3,91.88 L743.65,91.19 L743.01,90.45 L742.41,89.67 L741.85,88.85 L741.32,87.99 L740.85,87.11 L740.41,86.21 L740.04,85.3 L739.71,84.38 L739.44,83.47 L739.24,82.56 L739.09,81.67 L739,80.8 L738.98,79.96 L739.02,79.15 L739.12,78.39 L739.28,77.67 L739.51,77.01 L739.79,76.4 L740.13,75.86 L740.52,75.38 L740.96,74.97 L741.45,74.64 L748.38,70.64 L748.91,70.38 L749.49,70.2 L750.09,70.1 L750.73,70.08 L751.4,70.14 L752.09,70.28 L752.79,70.5 L753.5,70.79 L754.22,71.16 L754.93,71.6 L755.64,72.11 L756.34,72.68 L757.02,73.32 L757.68,74.01 L758.32,74.75 L758.92,75.53 L759.48,76.35 L760,77.21 L760.48,78.09 L760.91,78.99 L761.29,79.9 L761.62,80.82 L761.88,81.73 L762.09,82.64 L762.24,83.53 L762.33,84.4 L762.35,85.24 L762.31,86.05 L762.21,86.81 L762.05,87.53 L761.82,88.19 L761.54,88.8 L761.2,89.34 L760.81,89.82 L760.37,90.23 L759.88,90.56Z" fill="#e0e0e0" stroke="#000" stroke-width="1.1" stroke-linejoin="round" stroke-dasharray="1 2.1" stroke-linecap="butt"/>
<ellipse cx="747.2" cy="84.6" rx="11.5" ry="6.78" transform="rotate(60 747.2 84.6)" fill="#e0e0e0" stroke="#000" stroke-width="1.1" stroke-dasharray="1 2.1" stroke-linecap="butt"/>
<path d="M698.76,124.69 L698.27,124.93 L697.75,125.09 L697.19,125.19 L696.61,125.2 L696,125.15 L695.37,125.02 L694.73,124.83 L694.08,124.56 L693.43,124.22 L692.77,123.82 L692.12,123.35 L691.49,122.83 L690.86,122.25 L690.26,121.62 L689.68,120.95 L689.14,120.23 L688.62,119.48 L688.14,118.7 L687.71,117.89 L687.31,117.07 L686.97,116.24 L686.67,115.4 L686.43,114.56 L686.24,113.74 L686.1,112.92 L686.02,112.13 L686,111.36 L686.04,110.63 L686.13,109.93 L686.28,109.27 L686.48,108.67 L686.74,108.11 L687.05,107.62 L687.41,107.18 L687.81,106.81 L688.26,106.51 L741.95,75.51 L742.44,75.27 L742.96,75.11 L743.52,75.01 L744.1,75 L744.71,75.05 L745.34,75.18 L745.98,75.37 L746.63,75.64 L747.28,75.98 L747.94,76.38 L748.58,76.85 L749.22,77.37 L749.84,77.95 L750.45,78.58 L751.02,79.25 L751.57,79.97 L752.09,80.72 L752.56,81.5 L753,82.31 L753.4,83.13 L753.74,83.96 L754.04,84.8 L754.28,85.64 L754.47,86.46 L754.61,87.28 L754.68,88.07 L754.71,88.84 L754.67,89.57 L754.58,90.27 L754.43,90.93 L754.23,91.53 L753.97,92.09 L753.66,92.58 L753.3,93.02 L752.9,93.39 L752.45,93.69Z" fill="#e0e0e0" stroke="#000" stroke-width="1.1" stroke-linejoin="round" stroke-dasharray="1 2.1" stroke-linecap="butt"/>
<ellipse cx="693.51" cy="115.6" rx="10.5" ry="6.19" transform="rotate(60 693.51 115.6)" fill="#e0e0e0" stroke="#000" stroke-width="1.1" stroke-dasharray="1 2.1" stroke-linecap="butt"/>
<path d="M691.96,130.93 L691.38,131.21 L690.76,131.4 L690.1,131.51 L689.4,131.53 L688.68,131.47 L687.93,131.32 L687.17,131.08 L686.4,130.76 L685.62,130.36 L684.84,129.88 L684.07,129.33 L683.31,128.71 L682.57,128.02 L681.85,127.27 L681.16,126.46 L680.51,125.61 L679.9,124.72 L679.33,123.79 L678.81,122.83 L678.34,121.85 L677.93,120.86 L677.57,119.86 L677.28,118.87 L677.06,117.88 L676.9,116.91 L676.8,115.97 L676.78,115.05 L676.82,114.18 L676.93,113.35 L677.11,112.57 L677.35,111.85 L677.66,111.19 L678.02,110.6 L678.45,110.08 L678.93,109.64 L679.46,109.27 L687.26,104.77 L687.84,104.49 L688.46,104.3 L689.12,104.19 L689.82,104.17 L690.54,104.23 L691.29,104.38 L692.05,104.62 L692.83,104.94 L693.6,105.34 L694.38,105.82 L695.15,106.37 L695.91,106.99 L696.66,107.68 L697.37,108.43 L698.06,109.24 L698.71,110.09 L699.33,110.98 L699.89,111.91 L700.42,112.87 L700.88,113.85 L701.29,114.84 L701.65,115.84 L701.94,116.83 L702.16,117.82 L702.32,118.79 L702.42,119.73 L702.44,120.65 L702.4,121.52 L702.29,122.35 L702.11,123.13 L701.87,123.85 L701.57,124.51 L701.2,125.1 L700.77,125.62 L700.29,126.06 L699.76,126.43Z" fill="#e0e0e0" stroke="#000" stroke-width="1.1" stroke-linejoin="round" stroke-dasharray="1 2.1" stroke-linecap="butt"/>
<ellipse cx="685.71" cy="120.1" rx="12.5" ry="7.38" transform="rotate(60 685.71 120.1)" fill="#e0e0e0" stroke="#000" stroke-width="1.1" stroke-dasharray="1 2.1" stroke-linecap="butt"/>
<path d="M650.51,153.13 L650,153.37 L649.45,153.55 L648.87,153.64 L648.26,153.66 L647.62,153.61 L646.96,153.47 L646.29,153.26 L645.61,152.98 L644.93,152.63 L644.24,152.21 L643.56,151.72 L642.89,151.17 L642.24,150.57 L641.61,149.91 L641.01,149.2 L640.43,148.45 L639.89,147.66 L639.39,146.85 L638.93,146 L638.52,145.14 L638.16,144.27 L637.85,143.39 L637.59,142.52 L637.39,141.65 L637.25,140.79 L637.17,139.96 L637.15,139.16 L637.19,138.39 L637.28,137.66 L637.44,136.97 L637.65,136.34 L637.92,135.76 L638.24,135.24 L638.62,134.78 L639.04,134.39 L639.51,134.07 L680.21,110.57 L680.72,110.33 L681.27,110.15 L681.86,110.06 L682.47,110.04 L683.1,110.09 L683.76,110.23 L684.43,110.44 L685.11,110.72 L685.8,111.07 L686.48,111.49 L687.16,111.98 L687.83,112.53 L688.48,113.13 L689.11,113.79 L689.72,114.5 L690.29,115.25 L690.83,116.04 L691.33,116.85 L691.79,117.7 L692.2,118.56 L692.57,119.43 L692.88,120.31 L693.13,121.18 L693.33,122.05 L693.47,122.91 L693.55,123.74 L693.58,124.54 L693.54,125.31 L693.44,126.04 L693.29,126.73 L693.07,127.36 L692.8,127.94 L692.48,128.46 L692.11,128.92 L691.68,129.31 L691.21,129.63Z" fill="#e0e0e0" stroke="#000" stroke-width="1.1" stroke-linejoin="round" stroke-dasharray="1 2.1" stroke-linecap="butt"/>
<ellipse cx="645.01" cy="143.6" rx="11" ry="6.49" transform="rotate(60 645.01 143.6)" fill="#e0e0e0" stroke="#000" stroke-width="1.1" stroke-dasharray="1 2.1" stroke-linecap="butt"/>
<path d="M645.1,163.76 L644.29,164.15 L643.42,164.42 L642.49,164.58 L641.52,164.61 L640.5,164.52 L639.46,164.31 L638.39,163.98 L637.31,163.53 L636.22,162.97 L635.13,162.3 L634.05,161.52 L632.98,160.65 L631.95,159.68 L630.94,158.63 L629.98,157.51 L629.07,156.32 L628.21,155.06 L627.41,153.76 L626.68,152.42 L626.03,151.05 L625.45,149.66 L624.96,148.27 L624.55,146.87 L624.23,145.49 L624.01,144.14 L623.88,142.81 L623.84,141.53 L623.9,140.31 L624.06,139.15 L624.3,138.06 L624.64,137.05 L625.07,136.12 L625.59,135.3 L626.18,134.57 L626.86,133.95 L627.6,133.44 L636.26,128.44 L637.07,128.05 L637.95,127.78 L638.87,127.62 L639.85,127.59 L640.86,127.68 L641.91,127.89 L642.97,128.22 L644.06,128.67 L645.15,129.23 L646.24,129.9 L647.32,130.68 L648.38,131.55 L649.42,132.52 L650.42,133.57 L651.38,134.69 L652.3,135.88 L653.16,137.14 L653.95,138.44 L654.68,139.78 L655.34,141.15 L655.91,142.54 L656.41,143.93 L656.81,145.33 L657.13,146.71 L657.36,148.06 L657.49,149.39 L657.52,150.67 L657.46,151.89 L657.31,153.05 L657.06,154.14 L656.72,155.15 L656.29,156.08 L655.78,156.9 L655.18,157.63 L654.51,158.25 L653.76,158.76Z" fill="#e0e0e0" stroke="#000" stroke-width="1.1" stroke-linejoin="round" stroke-dasharray="1 2.1" stroke-linecap="butt"/>
<ellipse cx="636.35" cy="148.6" rx="17.5" ry="10.32" transform="rotate(60 636.35 148.6)" fill="#e0e0e0" stroke="#000" stroke-width="1.1" stroke-dasharray="1 2.1" stroke-linecap="butt"/>
<path d="M586.1,146.4 L597.1,138.2 L608.1,141 L619.2,143.1 C626,145 629,148 629.1,149.7 C632,154 633,158 632.4,161.9 C631,166 629.5,169 628,171.8 L625.8,181.7 C623,185 621,187.5 619.2,189.4 L607,196 L590.5,204.8 L586,175 Z" fill="#e0e0e0" stroke="#000" stroke-width="1.1" stroke-linejoin="round" stroke-linecap="round" stroke-dasharray="1 2.1" stroke-linecap="butt"/>
<ellipse cx="601" cy="149.2" rx="6.6" ry="3.6" transform="rotate(0 601 149.2)" fill="none" stroke="#000" stroke-width="1.1" stroke-dasharray="1 2.1" stroke-linecap="butt"/>
<ellipse cx="617" cy="174" rx="5" ry="8" transform="rotate(15 617 174)" fill="none" stroke="#000" stroke-width="1.1" stroke-dasharray="1 2.1" stroke-linecap="butt"/>
<path d="M600,156 C606,160 614,162 622,160 M610,163 L612,190 M624,150 L626,185" fill="none" stroke="#000" stroke-width="1" stroke-linejoin="round" stroke-linecap="round" stroke-dasharray="1 2.1" stroke-linecap="butt"/>
<path d="M538.7,187.2 L545.3,171.8 C548,168 551,165.5 553,164 L568.5,158 L581.7,150.8 L586.1,146.4 L600,160 L600,205 L590.5,204.8 L569.6,217.5 L556.4,213.6 Z" fill="#e0e0e0" stroke="#000" stroke-width="1.1" stroke-linejoin="round" stroke-linecap="round" stroke-dasharray="1 2.1" stroke-linecap="butt"/>
<path d="M545.3,171.8 L568.5,181.7 L586.1,167.4 M568.5,181.7 L569.6,217.5" fill="none" stroke="#000" stroke-width="1.1" stroke-linejoin="round" stroke-linecap="round" stroke-dasharray="1 2.1" stroke-linecap="butt"/>
<ellipse cx="570.1" cy="167.4" rx="6.6" ry="3.6" transform="rotate(0 570.1 167.4)" fill="none" stroke="#000" stroke-width="1.1" stroke-dasharray="1 2.1" stroke-linecap="butt"/>
<ellipse cx="583.9" cy="196" rx="6" ry="9" transform="rotate(20 583.9 196)" fill="none" stroke="#000" stroke-width="1.1" stroke-dasharray="1 2.1" stroke-linecap="butt"/>
<path d="M574,184 C574,195 575,205 578,212 M593,180 L595,202" fill="none" stroke="#000" stroke-width="1" stroke-linejoin="round" stroke-linecap="round" stroke-dasharray="1 2.1" stroke-linecap="butt"/>
<path d="M533.37,224.22 L532.72,224.54 L532.02,224.76 L531.28,224.88 L530.5,224.91 L529.69,224.83 L528.86,224.67 L528,224.4 L527.13,224.04 L526.26,223.59 L525.39,223.06 L524.53,222.44 L523.68,221.74 L522.85,220.97 L522.04,220.13 L521.27,219.23 L520.54,218.27 L519.85,217.27 L519.22,216.23 L518.63,215.16 L518.11,214.06 L517.65,212.95 L517.25,211.83 L516.93,210.72 L516.68,209.61 L516.5,208.53 L516.39,207.47 L516.36,206.45 L516.41,205.47 L516.53,204.54 L516.73,203.67 L517,202.86 L517.35,202.12 L517.76,201.46 L518.23,200.88 L518.77,200.38 L519.37,199.98 L526.3,195.98 L526.95,195.66 L527.65,195.44 L528.39,195.32 L529.17,195.29 L529.98,195.37 L530.81,195.53 L531.67,195.8 L532.53,196.16 L533.41,196.61 L534.28,197.14 L535.14,197.76 L535.99,198.46 L536.82,199.23 L537.63,200.07 L538.4,200.97 L539.13,201.93 L539.81,202.93 L540.45,203.97 L541.03,205.04 L541.56,206.14 L542.02,207.25 L542.41,208.37 L542.74,209.48 L542.99,210.59 L543.17,211.67 L543.28,212.73 L543.31,213.75 L543.26,214.73 L543.14,215.66 L542.94,216.53 L542.67,217.34 L542.32,218.08 L541.91,218.74 L541.43,219.32 L540.89,219.82 L540.3,220.22Z" fill="#e0e0e0" stroke="#000" stroke-width="1.1" stroke-linejoin="round" stroke-dasharray="1 2.1" stroke-linecap="butt"/>
<ellipse cx="526.37" cy="212.1" rx="14" ry="8.26" transform="rotate(60 526.37 212.1)" fill="#e0e0e0" stroke="#000" stroke-width="1.1" stroke-dasharray="1 2.1" stroke-linecap="butt"/>
<path d="M546,190 C552,196 556,203 557,212" fill="none" stroke="#000" stroke-width="1" stroke-linejoin="round" stroke-linecap="round" stroke-dasharray="1 2.1" stroke-linecap="butt"/>
<path d="M477.93,252.19 L477.44,252.43 L476.92,252.59 L476.36,252.69 L475.78,252.7 L475.17,252.65 L474.54,252.52 L473.9,252.33 L473.25,252.06 L472.6,251.72 L471.94,251.32 L471.29,250.85 L470.66,250.33 L470.03,249.75 L469.43,249.12 L468.85,248.45 L468.31,247.73 L467.79,246.98 L467.31,246.2 L466.88,245.39 L466.48,244.57 L466.14,243.74 L465.84,242.9 L465.6,242.06 L465.41,241.24 L465.27,240.42 L465.19,239.63 L465.17,238.86 L465.21,238.13 L465.3,237.43 L465.45,236.77 L465.65,236.17 L465.91,235.61 L466.22,235.12 L466.58,234.68 L466.98,234.31 L467.43,234.01 L521.12,203.01 L521.61,202.77 L522.13,202.61 L522.69,202.51 L523.27,202.5 L523.88,202.55 L524.51,202.68 L525.15,202.87 L525.8,203.14 L526.45,203.48 L527.11,203.88 L527.75,204.35 L528.39,204.87 L529.01,205.45 L529.62,206.08 L530.19,206.75 L530.74,207.47 L531.26,208.22 L531.73,209 L532.17,209.81 L532.57,210.63 L532.91,211.46 L533.21,212.3 L533.45,213.14 L533.64,213.96 L533.78,214.78 L533.85,215.57 L533.88,216.34 L533.84,217.07 L533.75,217.77 L533.6,218.43 L533.4,219.03 L533.14,219.59 L532.83,220.08 L532.47,220.52 L532.07,220.89 L531.62,221.19Z" fill="#e0e0e0" stroke="#000" stroke-width="1.1" stroke-linejoin="round" stroke-dasharray="1 2.1" stroke-linecap="butt"/>
<ellipse cx="472.68" cy="243.1" rx="10.5" ry="6.19" transform="rotate(60 472.68 243.1)" fill="#e0e0e0" stroke="#000" stroke-width="1.1" stroke-dasharray="1 2.1" stroke-linecap="butt"/>
<path d="M451.1,271.72 L450.45,272.04 L449.75,272.26 L449.01,272.38 L448.23,272.41 L447.42,272.33 L446.59,272.17 L445.73,271.9 L444.86,271.54 L443.99,271.09 L443.12,270.56 L442.26,269.94 L441.41,269.24 L440.58,268.47 L439.77,267.63 L439,266.73 L438.27,265.77 L437.58,264.77 L436.95,263.73 L436.36,262.66 L435.84,261.56 L435.38,260.45 L434.98,259.33 L434.66,258.22 L434.41,257.11 L434.23,256.03 L434.12,254.97 L434.09,253.95 L434.14,252.97 L434.26,252.04 L434.46,251.17 L434.73,250.36 L435.08,249.62 L435.49,248.96 L435.96,248.38 L436.5,247.88 L437.1,247.48 L467.41,229.98 L468.06,229.66 L468.76,229.44 L469.5,229.32 L470.28,229.29 L471.09,229.37 L471.92,229.53 L472.78,229.8 L473.65,230.16 L474.52,230.61 L475.39,231.14 L476.25,231.76 L477.1,232.46 L477.93,233.23 L478.74,234.07 L479.51,234.97 L480.24,235.93 L480.93,236.93 L481.56,237.97 L482.15,239.04 L482.67,240.14 L483.13,241.25 L483.53,242.37 L483.85,243.48 L484.1,244.59 L484.28,245.67 L484.39,246.73 L484.42,247.75 L484.37,248.73 L484.25,249.66 L484.05,250.53 L483.78,251.34 L483.43,252.08 L483.02,252.74 L482.55,253.32 L482.01,253.82 L481.41,254.22Z" fill="#e0e0e0" stroke="#000" stroke-width="1.1" stroke-linejoin="round" stroke-dasharray="1 2.1" stroke-linecap="butt"/>
<ellipse cx="444.1" cy="259.6" rx="14" ry="8.26" transform="rotate(60 444.1 259.6)" fill="#e0e0e0" stroke="#000" stroke-width="1.1" stroke-dasharray="1 2.1" stroke-linecap="butt"/>
<ellipse cx="444.1" cy="259.6" rx="10" ry="5.9" transform="rotate(60 444.1 259.6)" fill="none" stroke="#000" stroke-width="1" stroke-dasharray="1 2.1" stroke-linecap="butt"/>
<path d="M449.37,269.58 l26.85,-15.50" fill="none" stroke="#000" stroke-width="0.8" stroke-linejoin="round" stroke-linecap="round" stroke-dasharray="1 2.1" stroke-linecap="butt"/>
<path d="M445.19,268.12 l26.85,-15.50" fill="none" stroke="#000" stroke-width="0.8" stroke-linejoin="round" stroke-linecap="round" stroke-dasharray="1 2.1" stroke-linecap="butt"/>
<path d="M441.16,264.33 l26.85,-15.50" fill="none" stroke="#000" stroke-width="0.8" stroke-linejoin="round" stroke-linecap="round" stroke-dasharray="1 2.1" stroke-linecap="butt"/>
<path d="M438.28,259.14 l26.85,-15.50" fill="none" stroke="#000" stroke-width="0.8" stroke-linejoin="round" stroke-linecap="round" stroke-dasharray="1 2.1" stroke-linecap="butt"/>
<path d="M437.25,253.82 l26.85,-15.50" fill="none" stroke="#000" stroke-width="0.8" stroke-linejoin="round" stroke-linecap="round" stroke-dasharray="1 2.1" stroke-linecap="butt"/>
<path d="M438.32,249.66 l26.85,-15.50" fill="none" stroke="#000" stroke-width="0.8" stroke-linejoin="round" stroke-linecap="round" stroke-dasharray="1 2.1" stroke-linecap="butt"/>
<path d="M600,419 L605.5,421.7 C608,422 609.5,423 610.2,424 L621,453.75 C621.5,457 621,460 620.3,461.6 L606.25,470.2 L595.3,472.5 L590,450 Z" fill="#e0e0e0" stroke="#000" stroke-width="1" stroke-linejoin="round" stroke-linecap="round" />
<path d="M592.2,447.5 L598.4,467.8 M594.5,469.4 L618.75,455.3 M606,466 L612,452" fill="none" stroke="#000" stroke-width="0.9" stroke-linejoin="round" stroke-linecap="round" />
<path d="M473.5,431.7 L472,402.5 C470,392 468.3,383 468.3,375.4 C468.8,369 470.5,365.5 472.5,362.9 C475.5,358.5 478.5,355.5 481.9,353.5 C485,352 488,351.8 491.25,352 L516.25,366 L532.9,402.5 L535,404 L520,440 L480,445 Z" fill="#e0e0e0" stroke="#000" stroke-width="1.1" stroke-linejoin="round" stroke-linecap="round" />
<path d="M533.4,402.8 C537,399 541,396 544.5,394.9 C548,393.5 551,392.7 553.5,392.7 C556,393 559,394 561,395.5 L575,405 L590,460 L606.25,470.2 L602,500 L582.6,509 L549,522.5 L531.1,531.5 L500,500 L490,440 Z" fill="#e0e0e0" stroke="none"/>
<path d="M533.4,402.8 C537,399 541,396 544.5,394.9 C548,393.5 551,392.7 553.5,392.7 C556,393 559,394 561,395.5" fill="none" stroke="#000" stroke-width="1.1" stroke-linejoin="round" stroke-linecap="round" />
<path d="M489.2,428.5 C489.6,412 490,400 491.2,392 C492.5,382 495,375 498,371.5 C501,368.5 504,367.5 504.8,367.6 L516.25,366" fill="none" stroke="#000" stroke-width="1" stroke-linejoin="round" stroke-linecap="round" />
<path d="M481.9,355.2 L504.8,367.6" fill="none" stroke="#000" stroke-width="1.3" stroke-linejoin="round" stroke-linecap="round" stroke-dasharray="0.7 0.7" stroke-linecap="butt"/>
<ellipse cx="505.6" cy="383" rx="13.4" ry="8.31" transform="rotate(62 505.6 383)" fill="none" stroke="#000" stroke-width="1.1" />
<path d="M475,393.83 L474.71,393.98 L474.4,394.09 L474.07,394.17 L473.74,394.21 L473.39,394.22 L473.04,394.19 L472.69,394.12 L472.33,394.02 L471.97,393.89 L471.62,393.72 L471.27,393.52 L470.94,393.29 L470.61,393.03 L470.3,392.74 L470.01,392.43 L469.74,392.1 L469.48,391.75 L469.25,391.38 L469.05,390.99 L468.87,390.59 L468.72,390.19 L468.59,389.78 L468.5,389.37 L468.44,388.96 L468.41,388.55 L468.41,388.15 L468.44,387.76 L468.5,387.39 L468.59,387.03 L468.71,386.69 L468.86,386.37 L469.04,386.07 L469.24,385.8 L469.47,385.56 L469.73,385.35 L470,385.17 L473.9,382.92 L474.19,382.77 L474.5,382.66 L474.82,382.58 L475.16,382.54 L475.5,382.53 L475.86,382.56 L476.21,382.63 L476.57,382.73 L476.93,382.86 L477.28,383.03 L477.62,383.23 L477.96,383.46 L478.28,383.72 L478.59,384.01 L478.89,384.32 L479.16,384.65 L479.41,385 L479.64,385.37 L479.85,385.76 L480.03,386.16 L480.18,386.56 L480.3,386.97 L480.4,387.38 L480.46,387.79 L480.49,388.2 L480.49,388.6 L480.46,388.99 L480.4,389.36 L480.31,389.72 L480.19,390.06 L480.04,390.38 L479.86,390.68 L479.65,390.95 L479.42,391.19 L479.17,391.4 L478.9,391.58Z" fill="#e0e0e0" stroke="#000" stroke-width="1.1" stroke-linejoin="round" />
<ellipse cx="472.5" cy="389.5" rx="5" ry="3.75" transform="rotate(60 472.5 389.5)" fill="#e0e0e0" stroke="#000" stroke-width="1.1" />
<ellipse cx="472.5" cy="389.5" rx="2.7" ry="2" transform="rotate(60 472.5 389.5)" fill="none" stroke="#000" stroke-width="1" />
<path d="M490.8,428.5 L533.4,403.9" fill="none" stroke="#000" stroke-width="0.9" stroke-linejoin="round" stroke-linecap="round" />
<path d="M507.6,434.1 L560,402.5 M507.6,434.1 L528.9,443" fill="none" stroke="#000" stroke-width="0.9" stroke-linejoin="round" stroke-linecap="round" />
<path d="M600.5,415.45 L601.31,416 L602.04,416.67 L602.69,417.46 L603.25,418.35 L603.71,419.36 L604.08,420.45 L604.35,421.64 L604.52,422.9 L604.58,424.23 L604.54,425.62 L604.4,427.05 L604.16,428.53 L603.81,430.03 L603.37,431.54 L602.84,433.06 L602.21,434.56 L601.5,436.05 L600.71,437.51 L599.84,438.92 L598.91,440.28 L597.92,441.57 L596.87,442.79 L595.78,443.93 L594.66,444.98 L593.5,445.93 L592.33,446.77 L591.15,447.5 L589.96,448.11 L588.79,448.59 L587.63,448.95 L586.49,449.18 L585.39,449.28 L584.34,449.24 L583.33,449.08 L582.38,448.78 L581.5,448.35 L552.06,431.35 L551.25,430.8 L550.51,430.13 L549.87,429.34 L549.31,428.45 L548.84,427.44 L548.47,426.35 L548.21,425.16 L548.04,423.9 L547.97,422.57 L548.01,421.18 L548.15,419.75 L548.4,418.27 L548.74,416.77 L549.18,415.26 L549.72,413.74 L550.35,412.24 L551.06,410.75 L551.85,409.29 L552.71,407.88 L553.65,406.52 L554.64,405.23 L555.68,404.01 L556.77,402.87 L557.9,401.82 L559.05,400.87 L560.23,400.03 L561.41,399.3 L562.59,398.69 L563.77,398.21 L564.93,397.85 L566.06,397.62 L567.16,397.52 L568.22,397.56 L569.23,397.72 L570.17,398.02 L571.06,398.45Z" fill="#e0e0e0" stroke="#000" stroke-width="1.1" stroke-linejoin="round" />
<ellipse cx="591" cy="431.9" rx="19" ry="11.21" transform="rotate(-60 591 431.9)" fill="#e0e0e0" stroke="#000" stroke-width="1.1" />
<ellipse cx="591.4" cy="431.9" rx="14.5" ry="8.55" transform="rotate(-60 591.4 431.9)" fill="none" stroke="#000" stroke-width="1" />
<path d="M562.5,400.6 L587.5,414.7" fill="none" stroke="#000" stroke-width="1.3" stroke-linejoin="round" stroke-linecap="round" stroke-dasharray="0.8 0.8" stroke-linecap="butt"/>
<path d="M569,443.4 L568.72,443.54 L568.41,443.65 L568.1,443.72 L567.77,443.75 L567.42,443.75 L567.08,443.71 L566.72,443.63 L566.37,443.52 L566.01,443.37 L565.66,443.19 L565.31,442.97 L564.97,442.73 L564.64,442.45 L564.33,442.15 L564.03,441.82 L563.75,441.47 L563.49,441.11 L563.25,440.72 L563.03,440.32 L562.84,439.91 L562.68,439.49 L562.55,439.07 L562.44,438.65 L562.37,438.22 L562.33,437.81 L562.31,437.4 L562.33,437 L562.38,436.62 L562.46,436.26 L562.57,435.91 L562.71,435.59 L562.88,435.29 L563.07,435.02 L563.29,434.78 L563.54,434.57 L563.8,434.4 L568.13,431.9 L568.41,431.76 L568.72,431.65 L569.03,431.58 L569.36,431.55 L569.71,431.55 L570.05,431.59 L570.41,431.67 L570.76,431.78 L571.12,431.93 L571.47,432.11 L571.82,432.33 L572.16,432.57 L572.49,432.85 L572.8,433.15 L573.1,433.48 L573.38,433.83 L573.64,434.19 L573.88,434.58 L574.1,434.98 L574.29,435.39 L574.45,435.81 L574.58,436.23 L574.69,436.65 L574.76,437.08 L574.8,437.49 L574.82,437.9 L574.8,438.3 L574.75,438.68 L574.67,439.04 L574.56,439.39 L574.42,439.71 L574.25,440.01 L574.06,440.28 L573.84,440.52 L573.59,440.73 L573.33,440.9Z" fill="#e0e0e0" stroke="#000" stroke-width="1" stroke-linejoin="round" />
<ellipse cx="566.4" cy="438.9" rx="5.2" ry="3.64" transform="rotate(60 566.4 438.9)" fill="#e0e0e0" stroke="#000" stroke-width="1" />
<ellipse cx="566.4" cy="438.9" rx="2.8" ry="2" transform="rotate(60 566.4 438.9)" fill="none" stroke="#000" stroke-width="0.9" />
<path d="M601.15,484.51 L601.98,485.08 L602.73,485.77 L603.4,486.58 L603.97,487.5 L604.45,488.53 L604.83,489.65 L605.1,490.87 L605.27,492.16 L605.34,493.53 L605.3,494.95 L605.15,496.43 L604.9,497.94 L604.55,499.48 L604.1,501.03 L603.55,502.59 L602.91,504.13 L602.18,505.66 L601.36,507.15 L600.48,508.6 L599.52,510 L598.5,511.33 L597.43,512.58 L596.31,513.75 L595.15,514.83 L593.97,515.8 L592.77,516.66 L591.55,517.41 L590.34,518.03 L589.13,518.53 L587.94,518.9 L586.77,519.14 L585.65,519.24 L584.56,519.2 L583.53,519.03 L582.56,518.72 L581.65,518.29 L572.12,512.79 L571.29,512.22 L570.54,511.53 L569.88,510.72 L569.3,509.8 L568.83,508.77 L568.45,507.65 L568.17,506.43 L568,505.14 L567.93,503.77 L567.97,502.35 L568.12,500.87 L568.37,499.36 L568.72,497.82 L569.18,496.27 L569.73,494.71 L570.37,493.17 L571.1,491.64 L571.91,490.15 L572.8,488.7 L573.75,487.3 L574.77,485.97 L575.85,484.72 L576.96,483.55 L578.12,482.47 L579.3,481.5 L580.51,480.64 L581.72,479.89 L582.94,479.27 L584.15,478.77 L585.34,478.4 L586.5,478.16 L587.63,478.06 L588.71,478.1 L589.75,478.27 L590.72,478.58 L591.62,479.01Z" fill="#e0e0e0" stroke="none"/>
<path d="M581.65,518.29 l-9.53,-5.5 M601.15,484.51 l-9.53,-5.5" fill="none" stroke="#000" stroke-width="1.1" />
<ellipse cx="591.4" cy="501.4" rx="19.5" ry="11.5" transform="rotate(-60 591.4 501.4)" fill="#e0e0e0" stroke="#000" stroke-width="1.1" />
<ellipse cx="591.4" cy="501.4" rx="15" ry="8.85" transform="rotate(-60 591.4 501.4)" fill="none" stroke="#000" stroke-width="1" />
<path d="M553,494.4 L606.25,470.2" fill="none" stroke="#000" stroke-width="1" stroke-linejoin="round" stroke-linecap="round" />
<path d="M528,533 L549,522.5 L582.6,509" fill="none" stroke="#000" stroke-width="1.1" stroke-linejoin="round" stroke-linecap="round" />
<path d="M603.5,434.5 L627.5,423.5" stroke="#111" stroke-width="0.95" fill="none"/>
<path d="M527.5,455 C526.5,449 529,445 534,444 L545.3,443.5 C556,445 566,452 568.5,460 L570,487 C569,494 563,496 553.1,496 L541,494 C535,491 532,487 530.5,483 Z" fill="#e0e0e0" stroke="#000" stroke-width="1.1" stroke-linejoin="round" stroke-linecap="round" />
<ellipse cx="547.6" cy="470.9" rx="23.5" ry="12.6" transform="rotate(60 547.6 470.9)" fill="none" stroke="#000" stroke-width="1.1" />
<ellipse cx="548.6" cy="469.5" rx="20.5" ry="11" transform="rotate(60 548.6 469.5)" fill="none" stroke="#000" stroke-width="0.9" />
<path d="M538,462 C545,458 552,462 556,470 M536,475 L560,481 M540,456 C548,470 553,480 560,484" fill="none" stroke="#000" stroke-width="0.8" stroke-linejoin="round" stroke-linecap="round" />
<path d="M539,500 L551,494.5 L557,497.5 L557,518 L551,521.5 L539,515 Z" fill="#e0e0e0" stroke="#000" stroke-width="0.9" stroke-linejoin="round" stroke-linecap="round" />
<path d="M539,500 L545,503.5 L557,497.5 M545,503.5 V521" fill="none" stroke="#000" stroke-width="0.8" stroke-linejoin="round" stroke-linecap="round" />
<path d="M524.5,535.16 L522.15,536.27 L519.61,536.99 L516.89,537.32 L514,537.26 L510.98,536.8 L507.85,535.96 L504.62,534.74 L501.33,533.14 L498,531.18 L494.66,528.88 L491.32,526.25 L488.02,523.32 L484.78,520.09 L481.63,516.61 L478.58,512.89 L475.67,508.97 L472.91,504.87 L470.33,500.62 L467.94,496.26 L465.77,491.82 L463.83,487.34 L462.13,482.84 L460.69,478.37 L459.52,473.95 L458.63,469.63 L458.02,465.42 L457.7,461.37 L457.67,457.51 L457.93,453.86 L458.48,450.46 L459.32,447.32 L460.44,444.48 L461.83,441.95 L463.48,439.76 L465.37,437.92 L467.5,436.44 L472.7,433.44 L475.04,432.33 L477.59,431.61 L480.31,431.28 L483.19,431.34 L486.21,431.8 L489.35,432.64 L492.57,433.86 L495.86,435.46 L499.19,437.42 L502.54,439.72 L505.88,442.35 L509.18,445.28 L512.42,448.51 L515.57,451.99 L518.61,455.71 L521.53,459.63 L524.28,463.73 L526.86,467.98 L529.25,472.34 L531.42,476.78 L533.37,481.26 L535.06,485.76 L536.5,490.23 L537.68,494.65 L538.57,498.97 L539.18,503.18 L539.5,507.23 L539.53,511.09 L539.26,514.74 L538.71,518.14 L537.87,521.28 L536.76,524.12 L535.37,526.65 L533.72,528.84 L531.82,530.68 L529.7,532.16Z" fill="#e0e0e0" stroke="#000" stroke-width="1.1" stroke-linejoin="round" />
<ellipse cx="496" cy="485.8" rx="57" ry="29.64" transform="rotate(60 496 485.8)" fill="#e0e0e0" stroke="#000" stroke-width="1.1" />
<ellipse cx="522.06" cy="529.15" rx="3.4" ry="2.4" transform="rotate(60 522.06 529.15)" fill="none" stroke="#000" stroke-width="0.9" />
<ellipse cx="510.89" cy="530.05" rx="3.4" ry="2.4" transform="rotate(60 510.89 530.05)" fill="none" stroke="#000" stroke-width="0.9" />
<ellipse cx="497.75" cy="524.06" rx="3.4" ry="2.4" transform="rotate(60 497.75 524.06)" fill="none" stroke="#000" stroke-width="0.9" />
<ellipse cx="484.65" cy="512.1" rx="3.4" ry="2.4" transform="rotate(60 484.65 512.1)" fill="none" stroke="#000" stroke-width="0.9" />
<ellipse cx="473.59" cy="495.98" rx="3.4" ry="2.4" transform="rotate(60 473.59 495.98)" fill="none" stroke="#000" stroke-width="0.9" />
<ellipse cx="466.24" cy="478.16" rx="3.4" ry="2.4" transform="rotate(60 466.24 478.16)" fill="none" stroke="#000" stroke-width="0.9" />
<ellipse cx="463.73" cy="461.35" rx="3.4" ry="2.4" transform="rotate(60 463.73 461.35)" fill="none" stroke="#000" stroke-width="0.9" />
<ellipse cx="466.43" cy="448.11" rx="3.4" ry="2.4" transform="rotate(60 466.43 448.11)" fill="none" stroke="#000" stroke-width="0.9" />
<ellipse cx="473.94" cy="440.45" rx="3.4" ry="2.4" transform="rotate(60 473.94 440.45)" fill="none" stroke="#000" stroke-width="0.9" />
<ellipse cx="485.11" cy="439.55" rx="3.4" ry="2.4" transform="rotate(60 485.11 439.55)" fill="none" stroke="#000" stroke-width="0.9" />
<ellipse cx="498.25" cy="445.54" rx="3.4" ry="2.4" transform="rotate(60 498.25 445.54)" fill="none" stroke="#000" stroke-width="0.9" />
<ellipse cx="511.35" cy="457.5" rx="3.4" ry="2.4" transform="rotate(60 511.35 457.5)" fill="none" stroke="#000" stroke-width="0.9" />
<ellipse cx="522.41" cy="473.62" rx="3.4" ry="2.4" transform="rotate(60 522.41 473.62)" fill="none" stroke="#000" stroke-width="0.9" />
<ellipse cx="529.76" cy="491.44" rx="3.4" ry="2.4" transform="rotate(60 529.76 491.44)" fill="none" stroke="#000" stroke-width="0.9" />
<ellipse cx="532.27" cy="508.25" rx="3.4" ry="2.4" transform="rotate(60 532.27 508.25)" fill="none" stroke="#000" stroke-width="0.9" />
<ellipse cx="529.57" cy="521.49" rx="3.4" ry="2.4" transform="rotate(60 529.57 521.49)" fill="none" stroke="#000" stroke-width="0.9" />
<ellipse cx="497.5" cy="485" rx="42" ry="21.84" transform="rotate(60 497.5 485)" fill="none" stroke="#000" stroke-width="1" />
<ellipse cx="500.5" cy="484" rx="38.5" ry="19.25" transform="rotate(60 500.5 484)" fill="none" stroke="#000" stroke-width="1.5" />
<ellipse cx="494" cy="473" rx="27" ry="17.55" transform="rotate(60 494 473)" fill="none" stroke="#000" stroke-width="0.8" />
<ellipse cx="487.3" cy="467.6" rx="10.3" ry="6.39" transform="rotate(60 487.3 467.6)" fill="#e0e0e0" stroke="#000" stroke-width="1.2" />
<ellipse cx="488.2" cy="466.9" rx="7.8" ry="4.84" transform="rotate(60 488.2 466.9)" fill="none" stroke="#000" stroke-width="1" />
<ellipse cx="517.6" cy="504.5" rx="5.5" ry="3.3" transform="rotate(-60 517.6 504.5)" fill="none" stroke="#000" stroke-width="1" />
<path d="M506,510 C515,522 527,527 536,524" fill="none" stroke="#000" stroke-width="1" stroke-linejoin="round" stroke-linecap="round" />
<path d="M891.92,348.28 L891.53,348.47 L891.13,348.6 L890.7,348.69 L890.25,348.72 L889.78,348.69 L889.3,348.62 L888.81,348.49 L888.32,348.31 L887.82,348.07 L887.33,347.79 L886.85,347.47 L886.37,347.1 L885.9,346.69 L885.46,346.24 L885.03,345.75 L884.63,345.24 L884.25,344.7 L883.9,344.13 L883.59,343.55 L883.31,342.95 L883.06,342.35 L882.86,341.73 L882.69,341.12 L882.57,340.52 L882.49,339.92 L882.45,339.33 L882.45,338.77 L882.5,338.22 L882.59,337.7 L882.72,337.22 L882.89,336.76 L883.1,336.35 L883.36,335.97 L883.64,335.64 L883.96,335.36 L884.32,335.12 L889.08,332.37 L889.46,332.18 L889.87,332.05 L890.3,331.96 L890.75,331.93 L891.22,331.96 L891.69,332.03 L892.18,332.16 L892.68,332.34 L893.17,332.58 L893.66,332.86 L894.15,333.18 L894.63,333.55 L895.09,333.96 L895.54,334.41 L895.96,334.9 L896.37,335.41 L896.74,335.95 L897.09,336.52 L897.41,337.1 L897.69,337.7 L897.93,338.3 L898.14,338.92 L898.3,339.53 L898.43,340.13 L898.51,340.73 L898.55,341.32 L898.54,341.88 L898.5,342.43 L898.41,342.95 L898.28,343.43 L898.1,343.89 L897.89,344.3 L897.64,344.68 L897.35,345.01 L897.03,345.29 L896.68,345.53Z" fill="#e0e0e0" stroke="#000" stroke-width="1.5" stroke-linejoin="round" />
<ellipse cx="888.12" cy="341.7" rx="7.6" ry="4.86" transform="rotate(60 888.12 341.7)" fill="#e0e0e0" stroke="#000" stroke-width="1.5" />
<ellipse cx="888.12" cy="341.7" rx="5" ry="3.2" transform="rotate(60 888.12 341.7)" fill="none" stroke="#000" stroke-width="1.2" />
<path d="M888.85,333.20 l1.5,4.5 M895.35,342.70 l-3,3" fill="none" stroke="#000" stroke-width="1" stroke-linejoin="round" stroke-linecap="round" />
<path d="M867.4,357.82 L867.22,357.9 L867.04,357.96 L866.84,358 L866.63,358.01 L866.41,358 L866.19,357.96 L865.97,357.89 L865.74,357.81 L865.51,357.69 L865.28,357.56 L865.05,357.4 L864.83,357.23 L864.61,357.03 L864.4,356.82 L864.2,356.58 L864.01,356.34 L863.83,356.08 L863.67,355.82 L863.52,355.54 L863.38,355.26 L863.27,354.97 L863.17,354.68 L863.09,354.39 L863.03,354.11 L862.98,353.83 L862.96,353.55 L862.96,353.28 L862.98,353.03 L863.02,352.79 L863.07,352.56 L863.15,352.35 L863.25,352.15 L863.36,351.98 L863.49,351.82 L863.64,351.69 L863.8,351.58 L886.75,338.33 L886.92,338.25 L887.11,338.19 L887.31,338.15 L887.52,338.14 L887.73,338.15 L887.96,338.19 L888.18,338.26 L888.41,338.34 L888.64,338.46 L888.87,338.59 L889.1,338.75 L889.32,338.92 L889.54,339.12 L889.75,339.33 L889.95,339.57 L890.14,339.81 L890.32,340.07 L890.48,340.33 L890.63,340.61 L890.77,340.89 L890.88,341.18 L890.98,341.47 L891.06,341.76 L891.12,342.04 L891.16,342.32 L891.19,342.6 L891.19,342.87 L891.17,343.12 L891.13,343.36 L891.07,343.59 L891,343.8 L890.9,344 L890.79,344.17 L890.66,344.33 L890.51,344.46 L890.35,344.57Z" fill="#e0e0e0" stroke="#000" stroke-width="1.5" stroke-linejoin="round" />
<ellipse cx="865.6" cy="354.7" rx="3.6" ry="2.23" transform="rotate(60 865.6 354.7)" fill="#e0e0e0" stroke="#000" stroke-width="1.5" />
<path d="M869.13,356.82 L868.59,356.99 L867.97,356.93 L867.30,356.66 L866.64,356.18 L866.02,355.53 L865.49,354.76 L865.09,353.92 L864.84,353.06 L864.76,352.25 L864.85,351.53 L865.12,350.96 L865.53,350.58" fill="none" stroke="#000" stroke-width="0.9" stroke-linejoin="round" stroke-linecap="round" />
<path d="M870.86,355.82 L870.33,355.99 L869.70,355.93 L869.04,355.66 L868.37,355.18 L867.75,354.53 L867.22,353.76 L866.82,352.92 L866.57,352.06 L866.49,351.25 L866.59,350.53 L866.85,349.96 L867.26,349.58" fill="none" stroke="#000" stroke-width="0.9" stroke-linejoin="round" stroke-linecap="round" />
<path d="M872.60,354.82 L872.06,354.99 L871.44,354.93 L870.77,354.66 L870.10,354.18 L869.49,353.53 L868.96,352.76 L868.55,351.92 L868.30,351.06 L868.22,350.25 L868.32,349.53 L868.58,348.96 L869.00,348.58" fill="none" stroke="#000" stroke-width="0.9" stroke-linejoin="round" stroke-linecap="round" />
<path d="M874.33,353.82 L873.79,353.99 L873.17,353.93 L872.50,353.66 L871.84,353.18 L871.22,352.53 L870.69,351.76 L870.29,350.92 L870.04,350.06 L869.95,349.25 L870.05,348.53 L870.31,347.96 L870.73,347.58" fill="none" stroke="#000" stroke-width="0.9" stroke-linejoin="round" stroke-linecap="round" />
<path d="M876.06,352.82 L875.52,352.99 L874.90,352.93 L874.23,352.66 L873.57,352.18 L872.95,351.53 L872.42,350.76 L872.02,349.92 L871.77,349.06 L871.69,348.25 L871.78,347.53 L872.05,346.96 L872.46,346.58" fill="none" stroke="#000" stroke-width="0.9" stroke-linejoin="round" stroke-linecap="round" />
<path d="M877.79,351.82 L877.25,351.99 L876.63,351.93 L875.96,351.66 L875.30,351.18 L874.68,350.53 L874.15,349.76 L873.75,348.92 L873.50,348.06 L873.42,347.25 L873.51,346.53 L873.78,345.96 L874.19,345.58" fill="none" stroke="#000" stroke-width="0.9" stroke-linejoin="round" stroke-linecap="round" />
<path d="M879.52,350.82 L878.99,350.99 L878.36,350.93 L877.70,350.66 L877.03,350.18 L876.41,349.53 L875.88,348.76 L875.48,347.92 L875.23,347.06 L875.15,346.25 L875.25,345.53 L875.51,344.96 L875.92,344.58" fill="none" stroke="#000" stroke-width="0.9" stroke-linejoin="round" stroke-linecap="round" />
<path d="M881.26,349.82 L880.72,349.99 L880.10,349.93 L879.43,349.66 L878.76,349.18 L878.15,348.53 L877.62,347.76 L877.21,346.92 L876.96,346.06 L876.88,345.25 L876.98,344.53 L877.24,343.96 L877.66,343.58" fill="none" stroke="#000" stroke-width="0.9" stroke-linejoin="round" stroke-linecap="round" />
<path d="M882.99,348.82 L882.45,348.99 L881.83,348.93 L881.16,348.66 L880.50,348.18 L879.88,347.53 L879.35,346.76 L878.95,345.92 L878.70,345.06 L878.61,344.25 L878.71,343.53 L878.97,342.96 L879.39,342.58" fill="none" stroke="#000" stroke-width="0.9" stroke-linejoin="round" stroke-linecap="round" />
<path d="M225.95,573.13 L225.78,573.21 L225.6,573.27 L225.4,573.31 L225.2,573.32 L224.99,573.31 L224.77,573.27 L224.55,573.21 L224.33,573.12 L224.11,573.01 L223.88,572.88 L223.66,572.73 L223.45,572.56 L223.23,572.36 L223.03,572.16 L222.84,571.93 L222.65,571.69 L222.48,571.45 L222.32,571.19 L222.17,570.92 L222.04,570.64 L221.93,570.36 L221.83,570.08 L221.76,569.8 L221.7,569.52 L221.65,569.25 L221.63,568.98 L221.63,568.72 L221.65,568.48 L221.69,568.24 L221.74,568.02 L221.82,567.81 L221.91,567.62 L222.02,567.45 L222.15,567.3 L222.29,567.18 L222.45,567.07 L242.37,555.57 L242.54,555.49 L242.72,555.43 L242.91,555.39 L243.11,555.38 L243.32,555.39 L243.54,555.43 L243.76,555.49 L243.98,555.58 L244.21,555.69 L244.43,555.82 L244.65,555.97 L244.87,556.14 L245.08,556.34 L245.28,556.54 L245.48,556.77 L245.66,557.01 L245.84,557.25 L246,557.51 L246.14,557.78 L246.27,558.06 L246.38,558.34 L246.48,558.62 L246.56,558.9 L246.62,559.18 L246.66,559.45 L246.68,559.72 L246.68,559.98 L246.66,560.22 L246.63,560.46 L246.57,560.68 L246.5,560.89 L246.4,561.08 L246.29,561.25 L246.17,561.4 L246.02,561.52 L245.87,561.63Z" fill="#e0e0e0" stroke="#000" stroke-width="1.5" stroke-linejoin="round" />
<path d="M233.74,568.63 L233.22,568.80 L232.61,568.74 L231.96,568.47 L231.32,568.01 L230.72,567.38 L230.20,566.63 L229.81,565.81 L229.57,564.98 L229.49,564.19 L229.58,563.49 L229.84,562.94 L230.24,562.57" fill="none" stroke="#000" stroke-width="0.9" stroke-linejoin="round" stroke-linecap="round" />
<path d="M235.62,567.55 L235.10,567.71 L234.49,567.66 L233.84,567.39 L233.19,566.93 L232.59,566.30 L232.08,565.55 L231.69,564.73 L231.44,563.90 L231.37,563.10 L231.46,562.41 L231.72,561.86 L232.12,561.49" fill="none" stroke="#000" stroke-width="0.9" stroke-linejoin="round" stroke-linecap="round" />
<path d="M237.49,566.46 L236.97,566.63 L236.37,566.57 L235.72,566.31 L235.07,565.84 L234.47,565.22 L233.96,564.47 L233.56,563.65 L233.32,562.81 L233.24,562.02 L233.33,561.32 L233.59,560.77 L233.99,560.40" fill="none" stroke="#000" stroke-width="0.9" stroke-linejoin="round" stroke-linecap="round" />
<path d="M239.37,565.38 L238.85,565.55 L238.24,565.49 L237.59,565.22 L236.95,564.76 L236.35,564.13 L235.83,563.38 L235.44,562.56 L235.20,561.73 L235.12,560.94 L235.21,560.24 L235.47,559.69 L235.87,559.32" fill="none" stroke="#000" stroke-width="0.9" stroke-linejoin="round" stroke-linecap="round" />
<path d="M241.25,564.30 L240.72,564.46 L240.12,564.41 L239.47,564.14 L238.82,563.68 L238.22,563.05 L237.71,562.30 L237.32,561.48 L237.07,560.65 L237.00,559.85 L237.09,559.16 L237.34,558.61 L237.75,558.24" fill="none" stroke="#000" stroke-width="0.9" stroke-linejoin="round" stroke-linecap="round" />
<path d="M243.12,563.21 L242.60,563.38 L242.00,563.32 L241.35,563.06 L240.70,562.59 L240.10,561.97 L239.59,561.22 L239.19,560.40 L238.95,559.56 L238.87,558.77 L238.96,558.07 L239.22,557.52 L239.62,557.15" fill="none" stroke="#000" stroke-width="0.9" stroke-linejoin="round" stroke-linecap="round" />
<path d="M245.00,562.13 L244.48,562.30 L243.87,562.24 L243.22,561.97 L242.58,561.51 L241.98,560.88 L241.46,560.13 L241.07,559.31 L240.83,558.48 L240.75,557.69 L240.84,556.99 L241.10,556.44 L241.50,556.07" fill="none" stroke="#000" stroke-width="0.9" stroke-linejoin="round" stroke-linecap="round" />
<ellipse cx="244.12" cy="558.6" rx="3.5" ry="2.2" transform="rotate(60 244.12 558.6)" fill="#e0e0e0" stroke="#000" stroke-width="1.4" />
<path d="M225.1,577.66 L224.74,577.84 L224.35,577.97 L223.95,578.05 L223.52,578.09 L223.08,578.07 L222.63,578.01 L222.17,577.89 L221.71,577.73 L221.25,577.52 L220.78,577.27 L220.33,576.97 L219.89,576.63 L219.45,576.26 L219.04,575.84 L218.64,575.4 L218.27,574.93 L217.92,574.43 L217.6,573.91 L217.31,573.37 L217.05,572.82 L216.83,572.26 L216.64,571.7 L216.49,571.13 L216.39,570.57 L216.32,570.02 L216.29,569.47 L216.3,568.95 L216.35,568.44 L216.44,567.96 L216.57,567.51 L216.74,567.08 L216.94,566.69 L217.18,566.34 L217.46,566.03 L217.76,565.76 L218.1,565.54 L221.56,563.54 L221.93,563.36 L222.31,563.23 L222.72,563.15 L223.14,563.11 L223.58,563.13 L224.03,563.19 L224.49,563.31 L224.95,563.47 L225.42,563.68 L225.88,563.93 L226.33,564.23 L226.78,564.57 L227.21,564.94 L227.63,565.36 L228.02,565.8 L228.4,566.27 L228.74,566.77 L229.07,567.29 L229.35,567.83 L229.61,568.38 L229.83,568.94 L230.02,569.5 L230.17,570.07 L230.28,570.63 L230.35,571.18 L230.38,571.73 L230.37,572.25 L230.32,572.76 L230.23,573.24 L230.1,573.69 L229.93,574.12 L229.72,574.51 L229.48,574.86 L229.21,575.17 L228.9,575.44 L228.56,575.66Z" fill="#e0e0e0" stroke="#000" stroke-width="1.6" stroke-linejoin="round" />
<ellipse cx="221.6" cy="571.6" rx="7" ry="4.62" transform="rotate(60 221.6 571.6)" fill="#e0e0e0" stroke="#000" stroke-width="1.6" />
<path d="M218,566.5 L223,575.5 M223.5,564.5 L229,573" fill="none" stroke="#000" stroke-width="1.1" stroke-linejoin="round" stroke-linecap="round" />
<path d="M374.2,393.79 L374.53,394.02 L374.83,394.29 L375.1,394.6 L375.34,394.96 L375.53,395.36 L375.69,395.8 L375.81,396.27 L375.89,396.77 L375.93,397.29 L375.92,397.84 L375.88,398.4 L375.79,398.98 L375.66,399.57 L375.5,400.16 L375.3,400.76 L375.06,401.35 L374.78,401.93 L374.47,402.49 L374.14,403.04 L373.77,403.57 L373.38,404.07 L372.97,404.55 L372.54,404.99 L372.09,405.39 L371.63,405.75 L371.17,406.08 L370.69,406.35 L370.22,406.58 L369.75,406.77 L369.28,406.9 L368.83,406.98 L368.38,407.01 L367.95,406.98 L367.55,406.91 L367.16,406.78 L366.8,406.61 L362.04,403.86 L361.7,403.63 L361.4,403.36 L361.13,403.05 L360.9,402.69 L360.7,402.29 L360.55,401.85 L360.43,401.38 L360.35,400.88 L360.31,400.36 L360.31,399.81 L360.36,399.25 L360.45,398.67 L360.57,398.08 L360.74,397.49 L360.94,396.89 L361.18,396.3 L361.46,395.72 L361.76,395.16 L362.1,394.61 L362.47,394.08 L362.86,393.58 L363.27,393.1 L363.7,392.66 L364.15,392.26 L364.6,391.9 L365.07,391.57 L365.54,391.3 L366.02,391.07 L366.49,390.88 L366.95,390.75 L367.41,390.67 L367.85,390.64 L368.28,390.67 L368.69,390.74 L369.08,390.87 L369.44,391.04Z" fill="#e0e0e0" stroke="#000" stroke-width="1.2" stroke-linejoin="round" />
<ellipse cx="370.5" cy="400.2" rx="7.4" ry="4.59" transform="rotate(-60 370.5 400.2)" fill="#e0e0e0" stroke="#000" stroke-width="1.2" />
<path d="M365.70,401.70 a6,4 -60 0 1 7.00,-6.50" fill="none" stroke="#000" stroke-width="0.7" stroke-linejoin="round" stroke-linecap="round" />
<path d="M297.1,442.49 L297.43,442.72 L297.73,442.99 L298,443.3 L298.24,443.66 L298.43,444.06 L298.59,444.5 L298.71,444.97 L298.79,445.47 L298.83,445.99 L298.82,446.54 L298.78,447.1 L298.69,447.68 L298.56,448.27 L298.4,448.86 L298.2,449.46 L297.96,450.05 L297.68,450.63 L297.37,451.19 L297.04,451.74 L296.67,452.27 L296.28,452.77 L295.87,453.25 L295.44,453.69 L294.99,454.09 L294.53,454.45 L294.07,454.78 L293.59,455.05 L293.12,455.28 L292.65,455.47 L292.18,455.6 L291.73,455.68 L291.28,455.71 L290.85,455.68 L290.45,455.61 L290.06,455.48 L289.7,455.31 L284.94,452.56 L284.6,452.33 L284.3,452.06 L284.03,451.75 L283.8,451.39 L283.6,450.99 L283.45,450.55 L283.33,450.08 L283.25,449.58 L283.21,449.06 L283.21,448.51 L283.26,447.95 L283.35,447.37 L283.47,446.78 L283.64,446.19 L283.84,445.59 L284.08,445 L284.36,444.42 L284.66,443.86 L285,443.31 L285.37,442.78 L285.76,442.28 L286.17,441.8 L286.6,441.36 L287.05,440.96 L287.5,440.6 L287.97,440.27 L288.44,440 L288.92,439.77 L289.39,439.58 L289.85,439.45 L290.31,439.37 L290.75,439.34 L291.18,439.37 L291.59,439.44 L291.98,439.57 L292.34,439.74Z" fill="#e0e0e0" stroke="#000" stroke-width="1.2" stroke-linejoin="round" />
<ellipse cx="293.4" cy="448.9" rx="7.4" ry="4.59" transform="rotate(-60 293.4 448.9)" fill="#e0e0e0" stroke="#000" stroke-width="1.2" />
<path d="M288.60,450.40 a6,4 -60 0 1 7.00,-6.50" fill="none" stroke="#000" stroke-width="0.7" stroke-linejoin="round" stroke-linecap="round" />
<ellipse cx="400.4" cy="417.4" rx="6.8" ry="4" transform="rotate(-60 400.4 417.4)" fill="none" stroke="#000" stroke-width="2.5" />
<ellipse cx="324.25" cy="465.25" rx="6.8" ry="4" transform="rotate(-60 324.25 465.25)" fill="none" stroke="#000" stroke-width="2.5" />
<path d="M1076.8,173.32 L1076.01,173.7 L1075.16,173.97 L1074.26,174.12 L1073.32,174.15 L1072.33,174.06 L1071.32,173.86 L1070.28,173.54 L1069.23,173.1 L1068.17,172.56 L1067.11,171.91 L1066.06,171.15 L1065.03,170.3 L1064.02,169.37 L1063.04,168.35 L1062.11,167.25 L1061.22,166.1 L1060.39,164.88 L1059.61,163.62 L1058.91,162.31 L1058.27,160.98 L1057.71,159.63 L1057.23,158.28 L1056.84,156.92 L1056.53,155.58 L1056.31,154.26 L1056.18,152.98 L1056.15,151.74 L1056.21,150.55 L1056.35,149.42 L1056.6,148.36 L1056.93,147.38 L1057.34,146.48 L1057.84,145.68 L1058.42,144.97 L1059.08,144.37 L1059.8,143.88 L1065.26,140.73 L1066.05,140.35 L1066.89,140.08 L1067.79,139.93 L1068.74,139.9 L1069.72,139.99 L1070.74,140.19 L1071.78,140.51 L1072.83,140.95 L1073.89,141.49 L1074.95,142.14 L1076,142.9 L1077.03,143.75 L1078.04,144.68 L1079.01,145.7 L1079.95,146.8 L1080.83,147.95 L1081.67,149.17 L1082.44,150.43 L1083.15,151.74 L1083.79,153.07 L1084.35,154.42 L1084.83,155.77 L1085.22,157.13 L1085.53,158.47 L1085.75,159.79 L1085.87,161.07 L1085.91,162.31 L1085.85,163.5 L1085.7,164.63 L1085.46,165.69 L1085.13,166.67 L1084.71,167.57 L1084.21,168.37 L1083.64,169.08 L1082.98,169.68 L1082.26,170.17Z" fill="#e0e0e0" stroke="#000" stroke-width="1.1" stroke-linejoin="round" />
<ellipse cx="1068.3" cy="158.6" rx="17" ry="10.03" transform="rotate(60 1068.3 158.6)" fill="#e0e0e0" stroke="#000" stroke-width="1.1" />
<ellipse cx="1068.3" cy="158.6" rx="15.3" ry="9.03" transform="rotate(60 1068.3 158.6)" fill="none" stroke="#000" stroke-width="0.9" />
<ellipse cx="1068.8" cy="158.4" rx="12.8" ry="7.55" transform="rotate(60 1068.8 158.4)" fill="none" stroke="#000" stroke-width="0.6" />
<ellipse cx="1069.4" cy="158.1" rx="12" ry="7.08" transform="rotate(60 1069.4 158.1)" fill="none" stroke="#000" stroke-width="0.6" />
<ellipse cx="1070" cy="157.8" rx="11.2" ry="6.61" transform="rotate(60 1070 157.8)" fill="none" stroke="#000" stroke-width="0.6" />
<path d="M1059.5,152 C1061,148.5 1064,147 1067,147.5" fill="none" stroke="#000" stroke-width="1.5" stroke-linejoin="round" stroke-linecap="round" />
<path d="M1040.1,188.12 L1039.57,188.38 L1039,188.56 L1038.4,188.66 L1037.76,188.68 L1037.1,188.62 L1036.42,188.48 L1035.73,188.27 L1035.02,187.97 L1034.31,187.61 L1033.6,187.17 L1032.9,186.67 L1032.21,186.1 L1031.53,185.47 L1030.88,184.79 L1030.25,184.05 L1029.65,183.28 L1029.09,182.46 L1028.58,181.61 L1028.1,180.74 L1027.67,179.85 L1027.3,178.94 L1026.98,178.03 L1026.71,177.13 L1026.51,176.23 L1026.36,175.34 L1026.27,174.48 L1026.25,173.65 L1026.29,172.85 L1026.39,172.09 L1026.55,171.38 L1026.77,170.72 L1027.05,170.12 L1027.39,169.58 L1027.78,169.11 L1028.21,168.71 L1028.7,168.38 L1043.42,159.88 L1043.95,159.62 L1044.52,159.44 L1045.12,159.34 L1045.76,159.32 L1046.42,159.38 L1047.1,159.52 L1047.79,159.73 L1048.5,160.03 L1049.21,160.39 L1049.92,160.83 L1050.62,161.33 L1051.32,161.9 L1051.99,162.53 L1052.65,163.21 L1053.27,163.95 L1053.87,164.72 L1054.43,165.54 L1054.95,166.39 L1055.42,167.26 L1055.85,168.15 L1056.22,169.06 L1056.55,169.97 L1056.81,170.87 L1057.02,171.77 L1057.16,172.66 L1057.25,173.52 L1057.27,174.35 L1057.23,175.15 L1057.13,175.91 L1056.97,176.62 L1056.75,177.28 L1056.47,177.88 L1056.14,178.42 L1055.75,178.89 L1055.31,179.29 L1054.82,179.62Z" fill="#e0e0e0" stroke="#000" stroke-width="1.1" stroke-linejoin="round" />
<ellipse cx="1034.4" cy="178.25" rx="11.4" ry="6.73" transform="rotate(60 1034.4 178.25)" fill="#e0e0e0" stroke="#000" stroke-width="1.7" />
<path d="M1013,190.6 L1034.8,178" fill="none" stroke="#000" stroke-width="0.9" stroke-linejoin="round" stroke-linecap="round" />
<path d="M46.9,767.92 L46.11,768.3 L45.26,768.57 L44.36,768.72 L43.42,768.75 L42.43,768.66 L41.42,768.46 L40.38,768.14 L39.33,767.7 L38.27,767.16 L37.21,766.51 L36.16,765.75 L35.13,764.9 L34.12,763.97 L33.14,762.95 L32.21,761.85 L31.32,760.7 L30.49,759.48 L29.71,758.22 L29.01,756.91 L28.37,755.58 L27.81,754.23 L27.33,752.88 L26.94,751.52 L26.63,750.18 L26.41,748.86 L26.28,747.58 L26.25,746.34 L26.31,745.15 L26.45,744.02 L26.7,742.96 L27.03,741.98 L27.44,741.08 L27.94,740.28 L28.52,739.57 L29.18,738.97 L29.9,738.48 L35.36,735.33 L36.15,734.95 L36.99,734.68 L37.89,734.53 L38.84,734.5 L39.82,734.59 L40.84,734.79 L41.88,735.11 L42.93,735.55 L43.99,736.09 L45.05,736.74 L46.1,737.5 L47.13,738.35 L48.14,739.28 L49.11,740.3 L50.05,741.4 L50.93,742.55 L51.77,743.77 L52.54,745.03 L53.25,746.34 L53.89,747.67 L54.45,749.02 L54.93,750.37 L55.32,751.73 L55.63,753.07 L55.85,754.39 L55.97,755.67 L56.01,756.91 L55.95,758.1 L55.8,759.23 L55.56,760.29 L55.23,761.27 L54.81,762.17 L54.31,762.97 L53.74,763.68 L53.08,764.28 L52.36,764.77Z" fill="#e0e0e0" stroke="#000" stroke-width="1.1" stroke-linejoin="round" />
<ellipse cx="38.4" cy="753.2" rx="17" ry="10.03" transform="rotate(60 38.4 753.2)" fill="#e0e0e0" stroke="#000" stroke-width="1.1" />
<ellipse cx="38.4" cy="753.2" rx="15.3" ry="9.03" transform="rotate(60 38.4 753.2)" fill="none" stroke="#000" stroke-width="0.9" />
<ellipse cx="38.9" cy="753" rx="12.8" ry="7.55" transform="rotate(60 38.9 753)" fill="none" stroke="#000" stroke-width="0.6" />
<ellipse cx="39.5" cy="752.7" rx="12" ry="7.08" transform="rotate(60 39.5 752.7)" fill="none" stroke="#000" stroke-width="0.6" />
<ellipse cx="40.1" cy="752.4" rx="11.2" ry="6.61" transform="rotate(60 40.1 752.4)" fill="none" stroke="#000" stroke-width="0.6" />
<path d="M29.6,746.6 C31,743 34,741.6 37,742" fill="none" stroke="#000" stroke-width="1.5" stroke-linejoin="round" stroke-linecap="round" />
<path d="M68.3,749.45 L67.76,749.71 L67.18,749.89 L66.57,749.99 L65.92,750.01 L65.25,749.95 L64.56,749.81 L63.85,749.59 L63.13,749.3 L62.41,748.92 L61.69,748.48 L60.97,747.97 L60.27,747.39 L59.58,746.75 L58.91,746.05 L58.28,745.31 L57.67,744.51 L57.1,743.68 L56.57,742.82 L56.09,741.93 L55.66,741.03 L55.27,740.11 L54.95,739.18 L54.68,738.26 L54.47,737.34 L54.32,736.44 L54.23,735.56 L54.21,734.72 L54.25,733.9 L54.35,733.13 L54.51,732.41 L54.74,731.74 L55.02,731.13 L55.36,730.58 L55.76,730.1 L56.21,729.69 L56.7,729.35 L70.99,721.1 L71.53,720.84 L72.11,720.66 L72.72,720.56 L73.37,720.54 L74.04,720.6 L74.73,720.74 L75.44,720.96 L76.16,721.25 L76.88,721.63 L77.6,722.07 L78.32,722.58 L79.02,723.16 L79.71,723.8 L80.37,724.5 L81.01,725.24 L81.62,726.04 L82.19,726.87 L82.72,727.73 L83.2,728.62 L83.63,729.52 L84.02,730.44 L84.34,731.37 L84.61,732.29 L84.82,733.21 L84.97,734.11 L85.06,734.99 L85.08,735.83 L85.04,736.65 L84.94,737.42 L84.78,738.14 L84.55,738.81 L84.27,739.42 L83.93,739.97 L83.53,740.45 L83.08,740.86 L82.59,741.2Z" fill="#e0e0e0" stroke="#000" stroke-width="1.1" stroke-linejoin="round" />
<ellipse cx="62.5" cy="739.4" rx="11.6" ry="6.84" transform="rotate(60 62.5 739.4)" fill="#e0e0e0" stroke="#000" stroke-width="1.7" />
<path d="M82.5,727.5 L97.9,719.2" fill="none" stroke="#000" stroke-width="0.9" stroke-linejoin="round" stroke-linecap="round" />
<path d="M533.06,694.19 L532.46,694.47 L531.82,694.67 L531.15,694.78 L530.43,694.81 L529.69,694.74 L528.93,694.59 L528.15,694.35 L527.35,694.02 L526.56,693.61 L525.76,693.12 L524.97,692.55 L524.19,691.91 L523.43,691.21 L522.7,690.44 L522,689.62 L521.33,688.74 L520.7,687.83 L520.12,686.88 L519.58,685.9 L519.1,684.89 L518.68,683.88 L518.32,682.86 L518.02,681.84 L517.79,680.83 L517.63,679.84 L517.53,678.87 L517.51,677.93 L517.55,677.04 L517.66,676.19 L517.84,675.39 L518.09,674.65 L518.41,673.97 L518.78,673.37 L519.22,672.84 L519.71,672.39 L520.26,672.01 L543.2,658.76 L543.8,658.48 L544.44,658.28 L545.12,658.17 L545.83,658.14 L546.57,658.21 L547.33,658.36 L548.11,658.6 L548.91,658.93 L549.7,659.34 L550.5,659.83 L551.29,660.4 L552.07,661.04 L552.83,661.74 L553.56,662.51 L554.27,663.33 L554.93,664.21 L555.56,665.12 L556.15,666.07 L556.68,667.05 L557.16,668.06 L557.58,669.07 L557.94,670.09 L558.24,671.11 L558.47,672.12 L558.63,673.11 L558.73,674.08 L558.76,675.02 L558.71,675.91 L558.6,676.76 L558.42,677.56 L558.17,678.3 L557.86,678.98 L557.48,679.58 L557.04,680.11 L556.55,680.56 L556.01,680.94Z" fill="#e0e0e0" stroke="#000" stroke-width="1.1" stroke-linejoin="round" />
<path d="M510.16,710.52 L509.44,710.87 L508.67,711.11 L507.84,711.25 L506.98,711.28 L506.08,711.2 L505.16,711.01 L504.21,710.72 L503.25,710.32 L502.29,709.83 L501.32,709.23 L500.37,708.54 L499.42,707.77 L498.51,706.92 L497.62,705.99 L496.76,704.99 L495.95,703.93 L495.19,702.83 L494.49,701.67 L493.84,700.49 L493.26,699.27 L492.75,698.04 L492.32,696.81 L491.95,695.57 L491.67,694.35 L491.48,693.15 L491.36,691.97 L491.33,690.84 L491.38,689.76 L491.52,688.73 L491.74,687.76 L492.04,686.87 L492.42,686.05 L492.87,685.32 L493.4,684.67 L494,684.13 L494.66,683.68 L517.17,670.68 L517.89,670.33 L518.67,670.09 L519.49,669.95 L520.35,669.92 L521.25,670 L522.17,670.19 L523.12,670.48 L524.08,670.88 L525.04,671.37 L526.01,671.97 L526.97,672.66 L527.91,673.43 L528.83,674.28 L529.72,675.21 L530.57,676.21 L531.38,677.27 L532.14,678.37 L532.84,679.53 L533.49,680.71 L534.07,681.93 L534.58,683.16 L535.02,684.39 L535.38,685.63 L535.66,686.85 L535.86,688.05 L535.97,689.23 L536,690.36 L535.95,691.44 L535.82,692.47 L535.6,693.44 L535.29,694.33 L534.92,695.15 L534.46,695.88 L533.93,696.53 L533.33,697.07 L532.67,697.52Z" fill="#e0e0e0" stroke="#000" stroke-width="1.1" stroke-linejoin="round" />
<ellipse cx="502.41" cy="697.1" rx="15.5" ry="9.14" transform="rotate(60 502.41 697.1)" fill="#e0e0e0" stroke="#000" stroke-width="1.1" />
<path d="M502.20,680.60 a15,9 60 0 1 10.00,22.00" fill="none" stroke="#000" stroke-width="0.8" stroke-linejoin="round" stroke-linecap="round" />
<path d="M523.56,673.60 l5,-2.5 l4,5 l1,8 l-2,3 l-5,-2 l-3,-8 Z" fill="#e0e0e0" stroke="#000" stroke-width="1" stroke-linejoin="round" stroke-linecap="round" />
<path d="M501.73,711.93 L501.15,712.21 L500.53,712.4 L499.86,712.51 L499.17,712.53 L498.45,712.47 L497.7,712.32 L496.94,712.08 L496.16,711.76 L495.38,711.36 L494.6,710.88 L493.83,710.33 L493.07,709.71 L492.33,709.02 L491.62,708.27 L490.93,707.46 L490.28,706.61 L489.66,705.72 L489.09,704.79 L488.57,703.83 L488.1,702.85 L487.69,701.86 L487.34,700.86 L487.05,699.87 L486.82,698.88 L486.66,697.91 L486.57,696.97 L486.54,696.05 L486.59,695.18 L486.7,694.35 L486.87,693.57 L487.12,692.85 L487.42,692.19 L487.79,691.6 L488.22,691.08 L488.7,690.64 L489.23,690.27 L494.43,687.27 L495.01,686.99 L495.63,686.8 L496.29,686.69 L496.99,686.67 L497.71,686.73 L498.46,686.88 L499.22,687.12 L499.99,687.44 L500.77,687.84 L501.55,688.32 L502.32,688.87 L503.08,689.49 L503.82,690.18 L504.54,690.93 L505.23,691.74 L505.88,692.59 L506.49,693.48 L507.06,694.41 L507.58,695.37 L508.05,696.35 L508.46,697.34 L508.82,698.34 L509.11,699.33 L509.33,700.32 L509.49,701.29 L509.59,702.23 L509.61,703.15 L509.57,704.02 L509.46,704.85 L509.28,705.63 L509.04,706.35 L508.73,707.01 L508.37,707.6 L507.94,708.12 L507.46,708.56 L506.93,708.93Z" fill="#e0e0e0" stroke="#000" stroke-width="1.2" stroke-linejoin="round" />
<ellipse cx="495.48" cy="701.1" rx="12.5" ry="7.38" transform="rotate(60 495.48 701.1)" fill="#e0e0e0" stroke="#000" stroke-width="1.2" />
<ellipse cx="495.48" cy="701.1" rx="10.5" ry="6.19" transform="rotate(60 495.48 701.1)" fill="none" stroke="#000" stroke-width="0.9" />
<ellipse cx="495.48" cy="701.1" rx="8.5" ry="5.01" transform="rotate(60 495.48 701.1)" fill="none" stroke="#000" stroke-width="0.9" />
<path d="M471.8,720.08 L471.58,720.19 L471.34,720.27 L471.08,720.32 L470.82,720.33 L470.54,720.31 L470.26,720.26 L469.97,720.18 L469.67,720.07 L469.38,719.93 L469.09,719.75 L468.8,719.55 L468.51,719.33 L468.23,719.08 L467.97,718.8 L467.71,718.51 L467.47,718.2 L467.24,717.87 L467.03,717.53 L466.84,717.17 L466.67,716.81 L466.52,716.45 L466.39,716.08 L466.29,715.71 L466.21,715.34 L466.16,714.98 L466.13,714.63 L466.13,714.29 L466.15,713.96 L466.2,713.65 L466.27,713.36 L466.37,713.09 L466.49,712.84 L466.64,712.62 L466.81,712.42 L466.99,712.26 L467.2,712.12 L493.18,697.12 L493.4,697.01 L493.64,696.93 L493.9,696.88 L494.16,696.87 L494.44,696.89 L494.72,696.94 L495.01,697.02 L495.31,697.13 L495.6,697.27 L495.89,697.45 L496.18,697.65 L496.47,697.87 L496.75,698.12 L497.01,698.4 L497.27,698.69 L497.51,699 L497.74,699.33 L497.95,699.67 L498.14,700.03 L498.31,700.39 L498.46,700.75 L498.59,701.12 L498.69,701.49 L498.77,701.86 L498.82,702.22 L498.85,702.57 L498.85,702.91 L498.83,703.24 L498.78,703.55 L498.71,703.84 L498.61,704.11 L498.49,704.36 L498.34,704.58 L498.17,704.78 L497.99,704.94 L497.78,705.08Z" fill="#e0e0e0" stroke="#000" stroke-width="1.2" stroke-linejoin="round" />
<ellipse cx="469.5" cy="716.1" rx="4.6" ry="2.85" transform="rotate(60 469.5 716.1)" fill="#e0e0e0" stroke="#000" stroke-width="1.2" />
<path d="M474.40,718.58 L473.71,718.80 L472.91,718.73 L472.06,718.38 L471.21,717.77 L470.42,716.94 L469.75,715.96 L469.23,714.88 L468.91,713.78 L468.81,712.74 L468.93,711.83 L469.27,711.10 L469.80,710.62" fill="none" stroke="#000" stroke-width="0.8" stroke-linejoin="round" stroke-linecap="round" />
<path d="M476.24,717.52 L475.55,717.74 L474.75,717.67 L473.90,717.31 L473.05,716.70 L472.26,715.88 L471.59,714.89 L471.07,713.82 L470.75,712.72 L470.65,711.68 L470.77,710.77 L471.11,710.04 L471.64,709.55" fill="none" stroke="#000" stroke-width="0.8" stroke-linejoin="round" stroke-linecap="round" />
<path d="M478.08,716.46 L477.39,716.67 L476.60,716.60 L475.74,716.25 L474.89,715.64 L474.10,714.82 L473.43,713.83 L472.91,712.75 L472.59,711.66 L472.49,710.62 L472.61,709.70 L472.95,708.98 L473.48,708.49" fill="none" stroke="#000" stroke-width="0.8" stroke-linejoin="round" stroke-linecap="round" />
<path d="M479.92,715.40 L479.23,715.61 L478.44,715.54 L477.58,715.19 L476.73,714.58 L475.94,713.75 L475.27,712.77 L474.75,711.69 L474.43,710.60 L474.33,709.56 L474.45,708.64 L474.79,707.92 L475.32,707.43" fill="none" stroke="#000" stroke-width="0.8" stroke-linejoin="round" stroke-linecap="round" />
<path d="M481.76,714.33 L481.07,714.55 L480.28,714.48 L479.42,714.13 L478.57,713.52 L477.78,712.69 L477.11,711.71 L476.59,710.63 L476.27,709.53 L476.17,708.49 L476.29,707.58 L476.63,706.85 L477.16,706.37" fill="none" stroke="#000" stroke-width="0.8" stroke-linejoin="round" stroke-linecap="round" />
<path d="M483.60,713.27 L482.91,713.49 L482.12,713.42 L481.26,713.06 L480.41,712.45 L479.62,711.63 L478.95,710.64 L478.43,709.57 L478.11,708.47 L478.01,707.43 L478.13,706.52 L478.47,705.79 L479.00,705.30" fill="none" stroke="#000" stroke-width="0.8" stroke-linejoin="round" stroke-linecap="round" />
<path d="M485.44,712.21 L484.75,712.42 L483.96,712.35 L483.10,712.00 L482.25,711.39 L481.46,710.57 L480.79,709.58 L480.27,708.50 L479.95,707.41 L479.85,706.37 L479.97,705.45 L480.31,704.73 L480.84,704.24" fill="none" stroke="#000" stroke-width="0.8" stroke-linejoin="round" stroke-linecap="round" />
<path d="M487.28,711.15 L486.59,711.36 L485.80,711.29 L484.94,710.94 L484.09,710.33 L483.30,709.50 L482.63,708.52 L482.11,707.44 L481.79,706.35 L481.69,705.31 L481.81,704.39 L482.15,703.67 L482.68,703.18" fill="none" stroke="#000" stroke-width="0.8" stroke-linejoin="round" stroke-linecap="round" />
<path d="M489.12,710.08 L488.43,710.30 L487.64,710.23 L486.78,709.88 L485.93,709.27 L485.14,708.44 L484.47,707.46 L483.95,706.38 L483.63,705.28 L483.53,704.24 L483.65,703.33 L483.99,702.60 L484.52,702.12" fill="none" stroke="#000" stroke-width="0.8" stroke-linejoin="round" stroke-linecap="round" />
<path d="M458.2,733.57 L457.75,733.79 L457.27,733.94 L456.76,734.03 L456.23,734.06 L455.68,734.03 L455.11,733.93 L454.53,733.76 L453.95,733.54 L453.36,733.25 L452.77,732.91 L452.19,732.51 L451.62,732.05 L451.07,731.55 L450.53,731.01 L450.02,730.42 L449.53,729.79 L449.08,729.14 L448.66,728.45 L448.28,727.75 L447.94,727.03 L447.64,726.29 L447.38,725.56 L447.18,724.82 L447.02,724.09 L446.92,723.37 L446.86,722.66 L446.85,721.98 L446.9,721.33 L447,720.71 L447.15,720.13 L447.34,719.58 L447.59,719.09 L447.88,718.64 L448.21,718.25 L448.59,717.91 L449,717.63 L452.64,715.53 L453.09,715.31 L453.56,715.16 L454.07,715.07 L454.6,715.04 L455.16,715.07 L455.72,715.17 L456.3,715.34 L456.89,715.56 L457.48,715.85 L458.06,716.19 L458.65,716.59 L459.22,717.05 L459.77,717.55 L460.31,718.09 L460.82,718.68 L461.3,719.31 L461.76,719.96 L462.18,720.65 L462.56,721.35 L462.9,722.07 L463.2,722.81 L463.45,723.54 L463.66,724.28 L463.82,725.01 L463.92,725.73 L463.98,726.44 L463.98,727.12 L463.94,727.77 L463.84,728.39 L463.69,728.97 L463.49,729.52 L463.25,730.01 L462.96,730.46 L462.63,730.85 L462.25,731.19 L461.84,731.47Z" fill="#e0e0e0" stroke="#000" stroke-width="1.4" stroke-linejoin="round" />
<ellipse cx="453.6" cy="725.6" rx="9.2" ry="5.7" transform="rotate(60 453.6 725.6)" fill="#e0e0e0" stroke="#000" stroke-width="1.4" />
<ellipse cx="453.6" cy="725.6" rx="4.9" ry="3.2" transform="rotate(60 453.6 725.6)" fill="none" stroke="#000" stroke-width="1" />
<path d="M452.60,718.10 l4,7 M457.10,727.10 l-4,5" fill="none" stroke="#000" stroke-width="1.1" stroke-linejoin="round" stroke-linecap="round" />
<path d="M914.76,464.5 L914.5,464.63 L914.23,464.71 L913.94,464.77 L913.64,464.78 L913.33,464.76 L913.01,464.71 L912.68,464.61 L912.35,464.49 L912.02,464.32 L911.69,464.13 L911.36,463.9 L911.04,463.65 L910.72,463.36 L910.42,463.06 L910.13,462.72 L909.86,462.37 L909.6,462 L909.36,461.61 L909.15,461.21 L908.95,460.81 L908.79,460.39 L908.64,459.97 L908.53,459.56 L908.44,459.14 L908.38,458.74 L908.35,458.34 L908.34,457.96 L908.37,457.59 L908.42,457.24 L908.51,456.91 L908.62,456.6 L908.76,456.32 L908.92,456.07 L909.11,455.85 L909.32,455.65 L909.56,455.5 L933.8,441.5 L934.06,441.37 L934.33,441.29 L934.62,441.23 L934.92,441.22 L935.23,441.24 L935.55,441.29 L935.88,441.39 L936.21,441.51 L936.54,441.68 L936.87,441.87 L937.2,442.1 L937.52,442.35 L937.84,442.64 L938.14,442.94 L938.43,443.28 L938.7,443.63 L938.96,444 L939.2,444.39 L939.41,444.79 L939.61,445.19 L939.77,445.61 L939.92,446.03 L940.03,446.44 L940.12,446.86 L940.18,447.26 L940.21,447.66 L940.22,448.04 L940.19,448.41 L940.14,448.76 L940.05,449.09 L939.94,449.4 L939.8,449.68 L939.64,449.93 L939.45,450.15 L939.24,450.35 L939,450.5Z" fill="#e0e0e0" stroke="#000" stroke-width="1.2" stroke-linejoin="round" />
<ellipse cx="936.4" cy="446" rx="5.2" ry="3.22" transform="rotate(60 936.4 446)" fill="#e0e0e0" stroke="#000" stroke-width="1.2" />
<path d="M921.68,460.50 L920.91,460.75 L920.01,460.67 L919.04,460.27 L918.08,459.58 L917.19,458.65 L916.43,457.53 L915.84,456.32 L915.48,455.08 L915.37,453.90 L915.50,452.87 L915.88,452.05 L916.48,451.50" fill="none" stroke="#000" stroke-width="0.8" stroke-linejoin="round" stroke-linecap="round" />
<path d="M923.63,459.38 L922.86,459.62 L921.96,459.54 L920.99,459.14 L920.03,458.46 L919.14,457.52 L918.38,456.41 L917.79,455.19 L917.43,453.95 L917.32,452.78 L917.45,451.74 L917.83,450.92 L918.43,450.37" fill="none" stroke="#000" stroke-width="0.8" stroke-linejoin="round" stroke-linecap="round" />
<path d="M925.58,458.25 L924.80,458.50 L923.90,458.42 L922.94,458.02 L921.98,457.33 L921.09,456.40 L920.32,455.28 L919.74,454.07 L919.38,452.83 L919.26,451.65 L919.40,450.62 L919.78,449.80 L920.38,449.25" fill="none" stroke="#000" stroke-width="0.8" stroke-linejoin="round" stroke-linecap="round" />
<path d="M927.53,457.13 L926.75,457.37 L925.85,457.29 L924.89,456.89 L923.93,456.21 L923.04,455.27 L922.27,454.16 L921.69,452.94 L921.33,451.70 L921.21,450.53 L921.35,449.49 L921.73,448.67 L922.33,448.12" fill="none" stroke="#000" stroke-width="0.8" stroke-linejoin="round" stroke-linecap="round" />
<path d="M929.48,456.00 L928.70,456.25 L927.80,456.17 L926.84,455.77 L925.88,455.08 L924.98,454.15 L924.22,453.03 L923.64,451.82 L923.28,450.58 L923.16,449.40 L923.30,448.37 L923.68,447.55 L924.28,447.00" fill="none" stroke="#000" stroke-width="0.8" stroke-linejoin="round" stroke-linecap="round" />
<path d="M931.43,454.88 L930.65,455.12 L929.75,455.04 L928.79,454.64 L927.83,453.96 L926.93,453.02 L926.17,451.91 L925.59,450.69 L925.23,449.45 L925.11,448.28 L925.25,447.24 L925.63,446.42 L926.23,445.87" fill="none" stroke="#000" stroke-width="0.8" stroke-linejoin="round" stroke-linecap="round" />
<path d="M933.38,453.75 L932.60,454.00 L931.70,453.92 L930.73,453.52 L929.77,452.83 L928.88,451.90 L928.12,450.78 L927.54,449.57 L927.17,448.33 L927.06,447.15 L927.19,446.12 L927.58,445.30 L928.17,444.75" fill="none" stroke="#000" stroke-width="0.8" stroke-linejoin="round" stroke-linecap="round" />
<path d="M935.32,452.63 L934.55,452.87 L933.65,452.79 L932.68,452.39 L931.72,451.71 L930.83,450.77 L930.07,449.66 L929.48,448.44 L929.12,447.20 L929.01,446.03 L929.14,444.99 L929.52,444.17 L930.12,443.62" fill="none" stroke="#000" stroke-width="0.8" stroke-linejoin="round" stroke-linecap="round" />
<path d="M937.27,451.50 L936.50,451.75 L935.60,451.67 L934.63,451.27 L933.67,450.58 L932.78,449.65 L932.02,448.53 L931.43,447.32 L931.07,446.08 L930.95,444.90 L931.09,443.87 L931.47,443.05 L932.07,442.50" fill="none" stroke="#000" stroke-width="0.8" stroke-linejoin="round" stroke-linecap="round" />
<path d="M909.03,476.59 L908.44,476.87 L907.8,477.07 L907.12,477.18 L906.41,477.21 L905.67,477.14 L904.9,476.99 L904.12,476.75 L903.33,476.42 L902.53,476.01 L901.73,475.52 L900.94,474.95 L900.17,474.31 L899.41,473.61 L898.67,472.84 L897.97,472.02 L897.3,471.14 L896.67,470.23 L896.09,469.28 L895.56,468.3 L895.08,467.29 L894.66,466.28 L894.3,465.26 L894,464.24 L893.77,463.23 L893.6,462.24 L893.51,461.27 L893.48,460.33 L893.52,459.44 L893.64,458.59 L893.82,457.79 L894.07,457.05 L894.38,456.37 L894.76,455.77 L895.19,455.24 L895.68,454.79 L896.23,454.41 L904.02,449.91 L904.62,449.63 L905.26,449.43 L905.93,449.32 L906.65,449.29 L907.39,449.36 L908.15,449.51 L908.93,449.75 L909.73,450.08 L910.52,450.49 L911.32,450.98 L912.11,451.55 L912.89,452.19 L913.65,452.89 L914.38,453.66 L915.08,454.48 L915.75,455.36 L916.38,456.27 L916.96,457.22 L917.5,458.2 L917.98,459.21 L918.4,460.22 L918.76,461.24 L919.06,462.26 L919.29,463.27 L919.45,464.26 L919.55,465.23 L919.57,466.17 L919.53,467.06 L919.42,467.91 L919.24,468.71 L918.99,469.45 L918.67,470.13 L918.3,470.73 L917.86,471.26 L917.37,471.71 L916.82,472.09Z" fill="#e0e0e0" stroke="#000" stroke-width="1.2" stroke-linejoin="round" />
<ellipse cx="902.63" cy="465.5" rx="12.8" ry="7.55" transform="rotate(60 902.63 465.5)" fill="#e0e0e0" stroke="#000" stroke-width="1.2" />
<ellipse cx="905.23" cy="464" rx="12" ry="7.08" transform="rotate(60 905.23 464)" fill="none" stroke="#000" stroke-width="0.8" />
<ellipse cx="907.39" cy="462.75" rx="11.5" ry="6.78" transform="rotate(60 907.39 462.75)" fill="none" stroke="#000" stroke-width="0.8" />
<path d="M887,492.42 L886.28,492.77 L885.51,493.01 L884.68,493.15 L883.82,493.18 L882.92,493.1 L882,492.91 L881.05,492.62 L880.09,492.22 L879.13,491.73 L878.16,491.13 L877.21,490.44 L876.26,489.67 L875.35,488.82 L874.46,487.89 L873.6,486.89 L872.79,485.83 L872.03,484.73 L871.33,483.57 L870.68,482.39 L870.1,481.17 L869.59,479.94 L869.16,478.71 L868.79,477.47 L868.51,476.25 L868.32,475.05 L868.2,473.87 L868.17,472.74 L868.22,471.66 L868.36,470.63 L868.58,469.66 L868.88,468.77 L869.26,467.95 L869.71,467.22 L870.24,466.57 L870.84,466.03 L871.5,465.58 L895.75,451.58 L896.47,451.23 L897.24,450.99 L898.06,450.85 L898.92,450.82 L899.82,450.9 L900.74,451.09 L901.69,451.38 L902.65,451.78 L903.62,452.27 L904.58,452.87 L905.54,453.56 L906.48,454.33 L907.4,455.18 L908.29,456.11 L909.14,457.11 L909.95,458.17 L910.71,459.27 L911.42,460.43 L912.06,461.61 L912.64,462.83 L913.15,464.06 L913.59,465.29 L913.95,466.53 L914.23,467.75 L914.43,468.95 L914.54,470.13 L914.58,471.26 L914.52,472.34 L914.39,473.37 L914.17,474.34 L913.87,475.23 L913.49,476.05 L913.03,476.78 L912.5,477.43 L911.91,477.97 L911.25,478.42Z" fill="#e0e0e0" stroke="#000" stroke-width="1.1" stroke-linejoin="round" />
<ellipse cx="879.25" cy="479" rx="15.5" ry="9.14" transform="rotate(60 879.25 479)" fill="#e0e0e0" stroke="#000" stroke-width="1.1" />
<path d="M860.6,502.7 L860.08,502.95 L859.52,503.13 L858.93,503.22 L858.31,503.24 L857.66,503.19 L856.99,503.05 L856.3,502.84 L855.61,502.55 L854.91,502.19 L854.22,501.77 L853.52,501.27 L852.84,500.71 L852.18,500.09 L851.54,499.42 L850.92,498.7 L850.34,497.94 L849.79,497.14 L849.28,496.3 L848.81,495.45 L848.39,494.57 L848.02,493.68 L847.71,492.79 L847.45,491.9 L847.24,491.01 L847.1,490.14 L847.02,489.3 L846.99,488.48 L847.03,487.69 L847.13,486.95 L847.29,486.25 L847.51,485.61 L847.78,485.02 L848.11,484.49 L848.49,484.02 L848.92,483.63 L849.4,483.3 L875.38,468.3 L875.9,468.05 L876.46,467.87 L877.05,467.78 L877.67,467.76 L878.32,467.81 L878.99,467.95 L879.68,468.16 L880.37,468.45 L881.07,468.81 L881.76,469.23 L882.46,469.73 L883.14,470.29 L883.8,470.91 L884.44,471.58 L885.06,472.3 L885.64,473.06 L886.19,473.86 L886.7,474.7 L887.17,475.55 L887.59,476.43 L887.96,477.32 L888.27,478.21 L888.53,479.1 L888.74,479.99 L888.88,480.86 L888.96,481.7 L888.99,482.52 L888.95,483.31 L888.85,484.05 L888.69,484.75 L888.47,485.39 L888.2,485.98 L887.87,486.51 L887.49,486.98 L887.06,487.37 L886.58,487.7Z" fill="#e0e0e0" stroke="#000" stroke-width="1.1" stroke-linejoin="round" />
<ellipse cx="855" cy="493" rx="11.2" ry="6.61" transform="rotate(60 855 493)" fill="#e0e0e0" stroke="#000" stroke-width="1.6" />
<ellipse cx="855" cy="493" rx="9.5" ry="5.6" transform="rotate(60 855 493)" fill="none" stroke="#000" stroke-width="0.8" />
<path d="M883.7,465.1 L887.8,464.6 L892.9,469.7 L895.4,479.8 L893.9,482.9 L889.8,480.9 L886.3,475.8 Z" fill="#e0e0e0" stroke="#000" stroke-width="1.1" stroke-linejoin="round" stroke-linecap="round" />
<path d="M887.8,464.6 L889.5,470 L892.9,469.7 M889.5,470 L889.8,480.9" fill="none" stroke="#000" stroke-width="0.8" stroke-linejoin="round" stroke-linecap="round" />
<path d="M958.2,443.87 L957.75,444.09 L957.27,444.24 L956.76,444.33 L956.23,444.36 L955.68,444.33 L955.11,444.23 L954.53,444.06 L953.95,443.84 L953.36,443.55 L952.77,443.21 L952.19,442.81 L951.62,442.35 L951.07,441.85 L950.53,441.31 L950.02,440.72 L949.53,440.09 L949.08,439.44 L948.66,438.75 L948.28,438.05 L947.94,437.33 L947.64,436.59 L947.38,435.86 L947.18,435.12 L947.02,434.39 L946.92,433.67 L946.86,432.96 L946.85,432.28 L946.9,431.63 L947,431.01 L947.15,430.43 L947.34,429.88 L947.59,429.39 L947.88,428.94 L948.21,428.55 L948.59,428.21 L949,427.93 L952.64,425.83 L953.09,425.61 L953.56,425.46 L954.07,425.37 L954.6,425.34 L955.16,425.37 L955.72,425.47 L956.3,425.64 L956.89,425.86 L957.48,426.15 L958.06,426.49 L958.65,426.89 L959.22,427.35 L959.77,427.85 L960.31,428.39 L960.82,428.98 L961.3,429.61 L961.76,430.26 L962.18,430.95 L962.56,431.65 L962.9,432.37 L963.2,433.11 L963.45,433.84 L963.66,434.58 L963.82,435.31 L963.92,436.03 L963.98,436.74 L963.98,437.42 L963.94,438.07 L963.84,438.69 L963.69,439.27 L963.49,439.82 L963.25,440.31 L962.96,440.76 L962.63,441.15 L962.25,441.49 L961.84,441.77Z" fill="#e0e0e0" stroke="#000" stroke-width="1.4" stroke-linejoin="round" />
<ellipse cx="953.6" cy="435.9" rx="9.2" ry="5.7" transform="rotate(60 953.6 435.9)" fill="#e0e0e0" stroke="#000" stroke-width="1.4" />
<ellipse cx="953.6" cy="435.9" rx="4.9" ry="3.2" transform="rotate(60 953.6 435.9)" fill="none" stroke="#000" stroke-width="1" stroke-dasharray="1.2 0.8"/>
<path d="M952.60,428.40 l4,7 M957.10,437.40 l-4,5" fill="none" stroke="#000" stroke-width="1.1" stroke-linejoin="round" stroke-linecap="round" />
<path d="M980,430.45 L979.6,430.64 L979.17,430.78 L978.72,430.85 L978.24,430.87 L977.74,430.82 L977.23,430.72 L976.7,430.56 L976.17,430.34 L975.63,430.06 L975.1,429.73 L974.57,429.35 L974.04,428.92 L973.53,428.45 L973.04,427.93 L972.57,427.38 L972.12,426.79 L971.7,426.18 L971.31,425.54 L970.95,424.88 L970.63,424.21 L970.34,423.52 L970.1,422.84 L969.9,422.15 L969.74,421.47 L969.63,420.81 L969.57,420.16 L969.55,419.53 L969.58,418.93 L969.66,418.35 L969.78,417.82 L969.95,417.32 L970.16,416.87 L970.41,416.46 L970.7,416.11 L971.03,415.8 L971.4,415.55 L1061.46,363.55 L1061.86,363.36 L1062.29,363.22 L1062.75,363.15 L1063.23,363.13 L1063.72,363.18 L1064.24,363.28 L1064.76,363.44 L1065.29,363.66 L1065.83,363.94 L1066.37,364.27 L1066.9,364.65 L1067.42,365.08 L1067.93,365.55 L1068.42,366.07 L1068.9,366.62 L1069.34,367.21 L1069.77,367.82 L1070.16,368.46 L1070.52,369.12 L1070.84,369.79 L1071.12,370.48 L1071.36,371.16 L1071.56,371.85 L1071.72,372.53 L1071.83,373.19 L1071.89,373.84 L1071.91,374.47 L1071.88,375.07 L1071.81,375.65 L1071.69,376.18 L1071.52,376.68 L1071.31,377.13 L1071.05,377.54 L1070.76,377.89 L1070.43,378.2 L1070.06,378.45Z" fill="#e0e0e0" stroke="#000" stroke-width="1.2" stroke-linejoin="round" />
<ellipse cx="975.7" cy="423" rx="8.6" ry="5.07" transform="rotate(60 975.7 423)" fill="#e0e0e0" stroke="#000" stroke-width="1.2" />
<ellipse cx="975.7" cy="423" rx="6" ry="3.6" transform="rotate(60 975.7 423)" fill="none" stroke="#000" stroke-width="0.9" />
<ellipse cx="975.7" cy="423" rx="4.5" ry="2.7" transform="rotate(60 975.7 423)" fill="none" stroke="#000" stroke-width="0.7" />
<path d="M1060.5,366.5 C1064,369 1066,374 1066.5,378.5" fill="none" stroke="#000" stroke-width="0.9" stroke-linejoin="round" stroke-linecap="round" />
<path d="M1076.2,380 L1076.7,391.5 L1078.7,393 L1078.7,404.5 C1081,406 1087,406 1089.2,404.5 L1089.2,393 L1091.3,391.5 L1091.6,380 Z" fill="#e0e0e0" stroke="#000" stroke-width="1.1" stroke-linejoin="round" stroke-linecap="round" />
<path d="M1078.7,395.5 C1081,396.8 1087,396.8 1089.2,395.5" fill="none" stroke="#000" stroke-width="0.8" stroke-linejoin="round" stroke-linecap="round" />
<path d="M1078.7,398.0 C1081,399.3 1087,399.3 1089.2,398.0" fill="none" stroke="#000" stroke-width="0.8" stroke-linejoin="round" stroke-linecap="round" />
<path d="M1078.7,400.5 C1081,401.8 1087,401.8 1089.2,400.5" fill="none" stroke="#000" stroke-width="0.8" stroke-linejoin="round" stroke-linecap="round" />
<path d="M1078.7,403.0 C1081,404.3 1087,404.3 1089.2,403.0" fill="none" stroke="#000" stroke-width="0.8" stroke-linejoin="round" stroke-linecap="round" />
<path d="M1076.7,391.5 C1080,393.5 1087,393.5 1091.3,391.5" fill="none" stroke="#000" stroke-width="0.8" stroke-linejoin="round" stroke-linecap="round" />
<path d="M1067.4,360 C1067.8,352 1074,346.3 1083,346.3 C1094,346.3 1101.3,352 1101.3,362 L1101,372 C1100,378 1093,381 1084,381 C1075,381 1068,378 1067.6,372 Z" fill="#e0e0e0" stroke="#000" stroke-width="1.2" stroke-linejoin="round" stroke-linecap="round" />
<ellipse cx="1083" cy="354.4" rx="11.2" ry="6.8" transform="rotate(0 1083 354.4)" fill="none" stroke="#000" stroke-width="1" />
<path d="M1067.8,357.0 C1070.8,364.0 1097.8,364.0 1100.8,357.0" fill="none" stroke="#000" stroke-width="0.8" stroke-linejoin="round" stroke-linecap="round" />
<path d="M1067.5,362.0 C1070.5,369.0 1098.1,369.0 1101.1,362.0" fill="none" stroke="#000" stroke-width="0.8" stroke-linejoin="round" stroke-linecap="round" />
<path d="M1067.5,366.5 C1070.5,373.5 1098.1,373.5 1101.1,366.5" fill="none" stroke="#000" stroke-width="0.8" stroke-linejoin="round" stroke-linecap="round" />
<path d="M1068.0,370.0 C1071.0,377.0 1097.6,377.0 1100.6,370.0" fill="none" stroke="#000" stroke-width="0.8" stroke-linejoin="round" stroke-linecap="round" />
<path d="M1069,376.5 C1072,382.5 1096,382.5 1100.5,376.5" fill="none" stroke="#000" stroke-width="1.6" stroke-linejoin="round" stroke-linecap="round" />
<path d="M1074.15,470.10 C1076.00,465.60 1080.00,463.90 1084.00,463.90 C1088.00,463.90 1092.00,465.60 1093.85,470.10 L1093.50,477.10 C1092.00,481.10 1088.00,485.20 1084.00,485.20 C1080.00,485.20 1076.00,481.10 1074.50,477.10 Z" fill="#e0e0e0" stroke="#000" stroke-width="1.4" stroke-linejoin="round" stroke-linecap="round" />
<path d="M1074.15,469.80 L1079.20,473.20 L1088.30,473.20 L1093.85,469.80" fill="none" stroke="#000" stroke-width="1.3" stroke-linejoin="round" stroke-linecap="round" />
<path d="M1079.20,473.20 L1079.40,483.40 M1088.30,473.20 L1088.50,483.20" fill="none" stroke="#000" stroke-width="1.1" stroke-linejoin="round" stroke-linecap="round" />
<ellipse cx="1084" cy="467.8" rx="4.9" ry="2.5" transform="rotate(0 1084 467.8)" fill="none" stroke="#000" stroke-width="1.3" />
<path d="M315.6,795.9 L430.6,729.3 C435,727 439,729 439.5,734 C440,738.5 439.5,742 438.8,744.7 L324,810.9 Z" fill="#e0e0e0" stroke="#000" stroke-width="1.2" stroke-linejoin="round" stroke-linecap="round" />
<path d="M326.9,789.4 C331,792 333.5,797 333.9,801.6" fill="none" stroke="#000" stroke-width="0.9" stroke-linejoin="round" stroke-linecap="round" />
<path d="M299.2,828.7 L299.2,840 L301.1,841 L301.1,854 C303,856 311.5,856 313.7,854 L313.7,841 L315.1,840 L315.1,828.7 Z" fill="#e0e0e0" stroke="#000" stroke-width="1.1" stroke-linejoin="round" stroke-linecap="round" />
<path d="M301.1,844.0 C303,845.3 311.5,845.3 313.7,844.0" fill="none" stroke="#000" stroke-width="0.8" stroke-linejoin="round" stroke-linecap="round" />
<path d="M301.1,847.0 C303,848.3 311.5,848.3 313.7,847.0" fill="none" stroke="#000" stroke-width="0.8" stroke-linejoin="round" stroke-linecap="round" />
<path d="M301.1,850.0 C303,851.3 311.5,851.3 313.7,850.0" fill="none" stroke="#000" stroke-width="0.8" stroke-linejoin="round" stroke-linecap="round" />
<path d="M301.1,853.0 C303,854.3 311.5,854.3 313.7,853.0" fill="none" stroke="#000" stroke-width="0.8" stroke-linejoin="round" stroke-linecap="round" />
<path d="M301.1,841 C304,842.5 311,842.5 313.7,841" fill="none" stroke="#000" stroke-width="0.8" stroke-linejoin="round" stroke-linecap="round" />
<path d="M291.2,808.1 C291.5,800 298,795 307.2,795 C317,795 323.5,801 324,810 L323.6,819.4 C323,826 316,829.2 308.1,829.2 C299,829.2 292,826 291.2,821.2 Z" fill="#e0e0e0" stroke="#000" stroke-width="1.2" stroke-linejoin="round" stroke-linecap="round" />
<ellipse cx="307.2" cy="802.5" rx="10.3" ry="4.8" transform="rotate(0 307.2 802.5)" fill="none" stroke="#000" stroke-width="1" />
<path d="M291.4,806.0 C294.4,813.0 320.8,813.0 323.8,806.0" fill="none" stroke="#000" stroke-width="0.8" stroke-linejoin="round" stroke-linecap="round" />
<path d="M291.2,811.0 C294.2,818.0 321.0,818.0 324.0,811.0" fill="none" stroke="#000" stroke-width="0.8" stroke-linejoin="round" stroke-linecap="round" />
<path d="M291.2,815.5 C294.2,822.5 321.0,822.5 324.0,815.5" fill="none" stroke="#000" stroke-width="0.8" stroke-linejoin="round" stroke-linecap="round" />
<path d="M291.6,819.0 C294.6,826.0 320.6,826.0 323.6,819.0" fill="none" stroke="#000" stroke-width="0.8" stroke-linejoin="round" stroke-linecap="round" />
<path d="M292.5,825 C296,831 319,831 322.5,825" fill="none" stroke="#000" stroke-width="1.6" stroke-linejoin="round" stroke-linecap="round" />
<path d="M297.65,923.50 C299.50,919.00 303.50,917.30 307.50,917.30 C311.50,917.30 315.50,919.00 317.35,923.50 L317.00,930.50 C315.50,934.50 311.50,938.60 307.50,938.60 C303.50,938.60 299.50,934.50 298.00,930.50 Z" fill="#e0e0e0" stroke="#000" stroke-width="1.4" stroke-linejoin="round" stroke-linecap="round" />
<path d="M297.65,923.20 L302.70,926.60 L311.80,926.60 L317.35,923.20" fill="none" stroke="#000" stroke-width="1.3" stroke-linejoin="round" stroke-linecap="round" />
<path d="M302.70,926.60 L302.90,936.80 M311.80,926.60 L312.00,936.60" fill="none" stroke="#000" stroke-width="1.1" stroke-linejoin="round" stroke-linecap="round" />
<ellipse cx="307.5" cy="921.2" rx="4.9" ry="2.5" transform="rotate(0 307.5 921.2)" fill="none" stroke="#000" stroke-width="1.3" />
<text x="309" y="501" style="font-size:75.6px;fill:none;stroke:#7c7c7c;stroke-width:1.1">AUTOPITER.RU</text>
</svg>
</body></html>
